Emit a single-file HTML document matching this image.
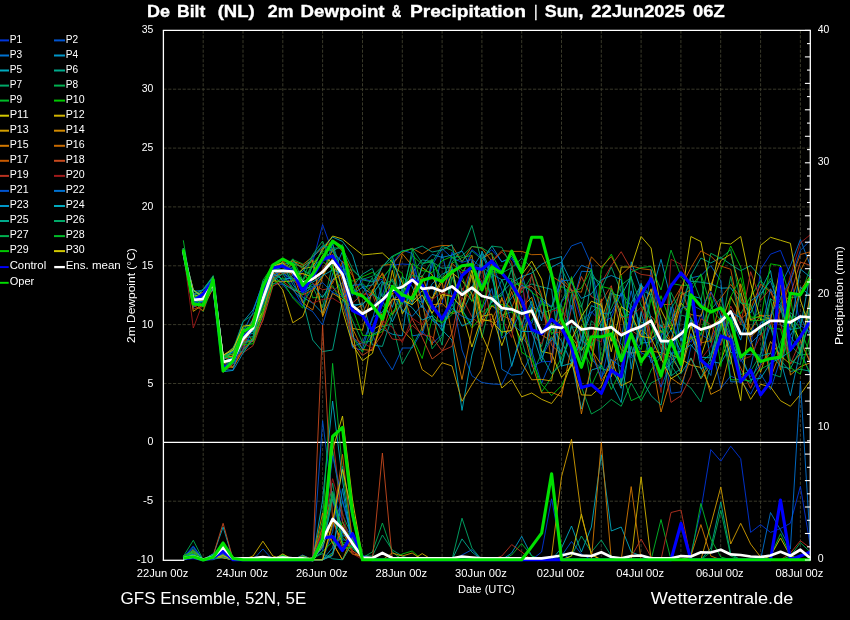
<!DOCTYPE html>
<html><head><meta charset="utf-8"><title>De Bilt (NL) 2m Dewpoint &amp; Precipitation</title>
<style>html,body{margin:0;padding:0;background:#000;}svg{display:block;font-family:"Liberation Sans",sans-serif;}text{fill:#fff;}svg{will-change:transform;}</style></head><body>
<svg width="850" height="620" viewBox="0 0 850 620">
<rect x="0" y="0" width="850" height="620" fill="#000"/>
<g stroke="#3e3e2e" stroke-width="0.9" stroke-dasharray="3.2,1.6" fill="none">
<line x1="203.2" y1="30.4" x2="203.2" y2="560.0"/>
<line x1="243.0" y1="30.4" x2="243.0" y2="560.0"/>
<line x1="282.8" y1="30.4" x2="282.8" y2="560.0"/>
<line x1="322.6" y1="30.4" x2="322.6" y2="560.0"/>
<line x1="362.5" y1="30.4" x2="362.5" y2="560.0"/>
<line x1="402.3" y1="30.4" x2="402.3" y2="560.0"/>
<line x1="442.1" y1="30.4" x2="442.1" y2="560.0"/>
<line x1="481.9" y1="30.4" x2="481.9" y2="560.0"/>
<line x1="521.7" y1="30.4" x2="521.7" y2="560.0"/>
<line x1="561.5" y1="30.4" x2="561.5" y2="560.0"/>
<line x1="601.3" y1="30.4" x2="601.3" y2="560.0"/>
<line x1="641.1" y1="30.4" x2="641.1" y2="560.0"/>
<line x1="680.9" y1="30.4" x2="680.9" y2="560.0"/>
<line x1="720.7" y1="30.4" x2="720.7" y2="560.0"/>
<line x1="760.6" y1="30.4" x2="760.6" y2="560.0"/>
<line x1="800.4" y1="30.4" x2="800.4" y2="560.0"/>
<line x1="163.4" y1="89.2" x2="810.3" y2="89.2"/>
<line x1="163.4" y1="148.1" x2="810.3" y2="148.1"/>
<line x1="163.4" y1="206.9" x2="810.3" y2="206.9"/>
<line x1="163.4" y1="265.8" x2="810.3" y2="265.8"/>
<line x1="163.4" y1="324.6" x2="810.3" y2="324.6"/>
<line x1="163.4" y1="383.5" x2="810.3" y2="383.5"/>
<line x1="163.4" y1="501.2" x2="810.3" y2="501.2"/>
</g>
<g fill="none" stroke-linejoin="round" stroke-linecap="butt">
<g stroke-width="0.9">
<polyline points="183.3,248.3 193.3,307.5 203.2,300.3 213.2,277.9 223.1,357.2 233.1,358.1 243.0,347.3 253.0,320.4 262.9,283.0 272.9,266.9 282.8,270.2 292.8,288.1 302.7,305.9 312.7,262.0 322.6,224.6 332.6,252.0 342.5,262.0 352.5,295.6 362.5,278.7 372.4,281.4 382.4,279.3 392.3,265.2 402.3,264.0 412.2,264.6 422.2,289.4 432.1,309.5 442.1,303.7 452.0,252.2 462.0,277.2 471.9,249.6 481.9,257.5 491.8,249.7 501.8,261.6 511.7,258.7 521.7,274.2 531.7,366.7 541.6,361.8 551.6,361.4 561.5,302.2 571.5,288.8 581.4,320.9 591.4,311.6 601.3,322.5 611.3,317.7 621.2,292.7 631.2,311.3 641.1,284.7 651.1,342.4 661.0,330.6 671.0,347.7 681.0,329.7 690.9,342.3 700.9,314.1 710.8,339.8 720.8,317.5 730.7,339.4 740.7,361.5 750.6,347.8 760.6,269.4 770.5,254.2 780.5,250.4 790.4,275.0 800.4,325.6 810.3,331.9" stroke="#0036dc" stroke-width="0.9" />
<polyline points="183.3,248.9 193.3,302.6 203.2,302.1 213.2,281.6 223.1,356.5 233.1,352.0 243.0,338.6 253.0,340.9 262.9,316.0 272.9,283.4 282.8,284.4 292.8,296.5 302.7,305.9 312.7,311.6 322.6,324.9 332.6,291.5 342.5,282.4 352.5,347.7 362.5,350.3 372.4,335.0 382.4,354.6 392.3,370.0 402.3,348.0 412.2,348.0 422.2,331.0 432.1,343.8 442.1,334.6 452.0,294.9 462.0,350.0 471.9,375.8 481.9,382.5 491.8,384.0 501.8,384.5 511.7,364.7 521.7,336.2 531.7,350.4 541.6,383.4 551.6,359.1 561.5,262.0 571.5,245.9 581.4,242.2 591.4,265.0 601.3,379.1 611.3,335.2 621.2,343.8 631.2,357.9 641.1,342.9 651.1,269.5 661.0,332.3 671.0,393.3 681.0,391.9 690.9,346.6 700.9,334.6 710.8,340.1 720.8,388.3 730.7,376.0 740.7,380.8 750.6,394.2 760.6,374.1 770.5,389.6 780.5,359.2 790.4,336.4 800.4,349.7 810.3,375.4" stroke="#0054d0" stroke-width="0.9" />
<polyline points="183.3,249.5 193.3,291.3 203.2,290.3 213.2,277.1 223.1,355.9 233.1,357.3 243.0,334.3 253.0,333.6 262.9,304.4 272.9,271.4 282.8,272.8 292.8,280.2 302.7,303.0 312.7,288.2 322.6,275.6 332.6,243.2 342.5,293.8 352.5,346.5 362.5,342.7 372.4,319.6 382.4,282.0 392.3,285.9 402.3,293.1 412.2,335.8 422.2,334.4 432.1,302.2 442.1,253.8 452.0,295.6 462.0,309.7 471.9,260.4 481.9,285.3 491.8,259.5 501.8,369.2 511.7,375.1 521.7,374.1 531.7,353.7 541.6,300.6 551.6,306.8 561.5,278.4 571.5,308.9 581.4,271.3 591.4,271.6 601.3,330.4 611.3,376.2 621.2,337.8 631.2,290.8 641.1,332.6 651.1,354.0 661.0,336.3 671.0,321.1 681.0,305.0 690.9,277.9 700.9,275.7 710.8,265.6 720.8,280.8 730.7,381.8 740.7,381.9 750.6,367.2 760.6,322.6 770.5,318.9 780.5,285.4 790.4,265.6 800.4,239.5 810.3,265.6" stroke="#0072d2" stroke-width="0.9" />
<polyline points="183.3,250.1 193.3,307.0 203.2,299.0 213.2,283.6 223.1,360.5 233.1,351.3 243.0,321.8 253.0,310.0 262.9,284.1 272.9,265.9 282.8,263.9 292.8,284.4 302.7,297.3 312.7,303.0 322.6,313.3 332.6,274.1 342.5,251.2 352.5,307.0 362.5,302.7 372.4,334.9 382.4,329.0 392.3,334.2 402.3,335.9 412.2,266.6 422.2,303.2 432.1,283.8 442.1,274.3 452.0,269.3 462.0,309.7 471.9,325.3 481.9,262.0 491.8,245.9 501.8,262.0 511.7,256.4 521.7,274.0 531.7,306.4 541.6,311.9 551.6,327.0 561.5,341.1 571.5,362.6 581.4,337.7 591.4,312.9 601.3,302.7 611.3,367.1 621.2,388.3 631.2,261.8 641.1,290.0 651.1,295.0 661.0,259.3 671.0,300.0 681.0,341.3 690.9,295.7 700.9,298.4 710.8,361.5 720.8,363.3 730.7,346.0 740.7,354.7 750.6,354.3 760.6,355.1 770.5,324.7 780.5,360.0 790.4,395.7 800.4,350.0 810.3,296.3" stroke="#0096c8" stroke-width="0.9" />
<polyline points="183.3,250.7 193.3,301.2 203.2,289.1 213.2,276.9 223.1,355.6 233.1,348.8 243.0,328.9 253.0,331.6 262.9,301.1 272.9,270.1 282.8,264.2 292.8,262.8 302.7,287.3 312.7,271.8 322.6,247.2 332.6,237.1 342.5,241.4 352.5,255.0 362.5,287.8 372.4,294.2 382.4,280.5 392.3,307.4 402.3,276.5 412.2,286.6 422.2,307.9 432.1,259.4 442.1,330.0 452.0,340.0 462.0,410.4 471.9,355.0 481.9,320.0 491.8,301.6 501.8,292.5 511.7,282.7 521.7,276.7 531.7,273.1 541.6,264.3 551.6,259.2 561.5,256.6 571.5,360.0 581.4,409.0 591.4,370.0 601.3,367.0 611.3,293.5 621.2,296.1 631.2,276.3 641.1,343.2 651.1,341.9 661.0,324.9 671.0,353.4 681.0,351.2 690.9,281.2 700.9,282.2 710.8,283.8 720.8,288.2 730.7,287.8 740.7,302.4 750.6,313.1 760.6,290.6 770.5,270.6 780.5,325.1 790.4,329.4 800.4,327.8 810.3,273.4" stroke="#00aabe" stroke-width="0.9" />
<polyline points="183.3,248.3 193.3,294.7 203.2,303.2 213.2,282.9 223.1,364.4 233.1,360.3 243.0,341.6 253.0,339.8 262.9,303.5 272.9,281.6 282.8,273.5 292.8,290.0 302.7,300.0 312.7,340.0 322.6,351.6 332.6,350.0 342.5,300.0 352.5,285.1 362.5,310.5 372.4,345.0 382.4,346.4 392.3,316.5 402.3,288.4 412.2,272.4 422.2,259.8 432.1,261.7 442.1,268.3 452.0,267.1 462.0,313.2 471.9,291.9 481.9,262.4 491.8,302.8 501.8,279.9 511.7,278.5 521.7,288.5 531.7,284.0 541.6,286.9 551.6,289.3 561.5,366.7 571.5,326.9 581.4,327.9 591.4,359.4 601.3,368.6 611.3,371.3 621.2,382.8 631.2,303.1 641.1,284.8 651.1,296.3 661.0,339.9 671.0,376.0 681.0,368.5 690.9,275.7 700.9,258.0 710.8,263.0 720.8,257.5 730.7,264.3 740.7,270.7 750.6,265.6 760.6,277.0 770.5,327.1 780.5,360.4 790.4,371.5 800.4,369.3 810.3,371.2" stroke="#00aa8c" stroke-width="0.9" />
<polyline points="183.3,248.9 193.3,295.5 203.2,295.0 213.2,278.4 223.1,362.3 233.1,355.4 243.0,334.5 253.0,329.2 262.9,312.6 272.9,271.7 282.8,263.8 292.8,275.1 302.7,269.6 312.7,276.5 322.6,258.9 332.6,251.5 342.5,244.6 352.5,292.5 362.5,293.7 372.4,277.5 382.4,326.9 392.3,323.6 402.3,364.0 412.2,346.4 422.2,327.7 432.1,315.7 442.1,345.1 452.0,262.0 462.0,250.0 471.9,225.4 481.9,262.0 491.8,300.0 501.8,294.7 511.7,269.9 521.7,311.3 531.7,329.6 541.6,346.5 551.6,307.4 561.5,267.9 571.5,291.0 581.4,307.5 591.4,271.9 601.3,289.3 611.3,266.9 621.2,291.7 631.2,306.0 641.1,322.4 651.1,325.0 661.0,349.0 671.0,365.0 681.0,380.5 690.9,388.0 700.9,402.0 710.8,365.0 720.8,334.8 730.7,364.3 740.7,293.1 750.6,319.5 760.6,311.5 770.5,373.7 780.5,377.0 790.4,312.4 800.4,322.9 810.3,305.0" stroke="#00a868" stroke-width="0.9" />
<polyline points="183.3,249.5 193.3,295.0 203.2,295.3 213.2,281.2 223.1,357.8 233.1,347.4 243.0,330.8 253.0,333.6 262.9,303.2 272.9,266.6 282.8,270.1 292.8,280.1 302.7,288.8 312.7,286.4 322.6,307.6 332.6,264.6 342.5,269.4 352.5,270.1 362.5,279.4 372.4,276.1 382.4,266.4 392.3,260.5 402.3,313.1 412.2,297.1 422.2,302.4 432.1,348.8 442.1,336.8 452.0,276.6 462.0,305.6 471.9,274.5 481.9,337.8 491.8,296.7 501.8,296.2 511.7,267.9 521.7,292.8 531.7,276.2 541.6,313.4 551.6,309.9 561.5,305.6 571.5,342.5 581.4,387.0 591.4,414.0 601.3,408.3 611.3,399.4 621.2,406.3 631.2,383.0 641.1,400.7 651.1,383.0 661.0,378.0 671.0,308.8 681.0,292.5 690.9,297.4 700.9,362.2 710.8,353.9 720.8,329.9 730.7,276.2 740.7,323.4 750.6,333.3 760.6,295.9 770.5,278.3 780.5,297.7 790.4,345.5 800.4,355.0 810.3,353.8" stroke="#00b050" stroke-width="0.9" />
<polyline points="183.3,240.3 193.3,301.0 203.2,311.5 213.2,284.2 223.1,360.6 233.1,367.2 243.0,342.9 253.0,341.4 262.9,308.7 272.9,275.7 282.8,270.9 292.8,259.6 302.7,263.9 312.7,297.8 322.6,296.6 332.6,285.6 342.5,304.9 352.5,336.8 362.5,352.1 372.4,327.4 382.4,305.1 392.3,315.1 402.3,292.7 412.2,255.3 422.2,264.4 432.1,259.7 442.1,284.5 452.0,263.4 462.0,257.5 471.9,255.4 481.9,312.3 491.8,305.4 501.8,315.0 511.7,311.9 521.7,322.1 531.7,355.0 541.6,392.0 551.6,377.0 561.5,357.3 571.5,337.4 581.4,327.6 591.4,385.7 601.3,364.1 611.3,389.5 621.2,370.0 631.2,400.7 641.1,396.0 651.1,370.0 661.0,356.1 671.0,283.3 681.0,285.3 690.9,285.2 700.9,275.3 710.8,342.6 720.8,321.7 730.7,297.2 740.7,313.6 750.6,296.5 760.6,280.7 770.5,291.3 780.5,309.3 790.4,297.8 800.4,296.3 810.3,267.8" stroke="#00bc28" stroke-width="0.9" />
<polyline points="183.3,250.7 193.3,298.2 203.2,292.6 213.2,278.4 223.1,359.3 233.1,350.1 243.0,352.0 253.0,337.4 262.9,305.5 272.9,268.9 282.8,281.4 292.8,298.0 302.7,308.2 312.7,276.3 322.6,261.7 332.6,268.8 342.5,271.1 352.5,281.2 362.5,276.8 372.4,272.4 382.4,278.1 392.3,265.8 402.3,273.4 412.2,337.1 422.2,358.5 432.1,318.8 442.1,322.6 452.0,311.9 462.0,310.4 471.9,327.9 481.9,316.3 491.8,305.3 501.8,304.5 511.7,307.5 521.7,352.2 531.7,358.9 541.6,384.5 551.6,395.6 561.5,385.7 571.5,365.0 581.4,346.5 591.4,366.8 601.3,269.4 611.3,254.2 621.2,275.7 631.2,336.7 641.1,349.6 651.1,298.7 661.0,333.2 671.0,318.6 681.0,302.9 690.9,318.4 700.9,340.8 710.8,309.4 720.8,269.8 730.7,246.0 740.7,267.0 750.6,320.8 760.6,320.3 770.5,263.8 780.5,265.6 790.4,298.0 800.4,354.4 810.3,372.7" stroke="#00c800" stroke-width="0.9" />
<polyline points="183.3,248.3 193.3,294.0 203.2,292.7 213.2,279.0 223.1,356.2 233.1,354.1 243.0,331.1 253.0,326.6 262.9,312.3 272.9,280.9 282.8,281.5 292.8,281.0 302.7,268.9 312.7,266.6 322.6,250.0 332.6,236.0 342.5,239.0 352.5,247.0 362.5,255.0 372.4,254.0 382.4,253.0 392.3,262.0 402.3,282.8 412.2,302.1 422.2,290.8 432.1,298.3 442.1,278.8 452.0,270.1 462.0,311.6 471.9,347.0 481.9,316.4 491.8,314.1 501.8,345.7 511.7,318.1 521.7,342.2 531.7,307.5 541.6,351.4 551.6,353.7 561.5,377.3 571.5,365.9 581.4,325.5 591.4,348.4 601.3,310.7 611.3,341.3 621.2,267.0 631.2,267.0 641.1,236.5 651.1,248.0 661.0,310.0 671.0,330.0 681.0,300.0 690.9,236.5 700.9,241.6 710.8,291.0 720.8,242.8 730.7,244.0 740.7,236.5 750.6,283.0 760.6,320.0 770.5,318.2 780.5,266.3 790.4,322.2 800.4,340.9 810.3,362.6" stroke="#d2c800" stroke-width="0.9" />
<polyline points="183.3,248.9 193.3,294.4 203.2,297.9 213.2,289.3 223.1,358.6 233.1,355.8 243.0,330.2 253.0,329.2 262.9,314.2 272.9,277.0 282.8,290.0 292.8,322.8 302.7,316.5 312.7,291.0 322.6,276.6 332.6,258.0 342.5,290.0 352.5,330.0 362.5,394.8 372.4,330.0 382.4,324.0 392.3,270.3 402.3,314.1 412.2,295.0 422.2,267.6 432.1,274.6 442.1,299.4 452.0,272.8 462.0,280.5 471.9,293.9 481.9,335.0 491.8,357.0 501.8,388.0 511.7,379.5 521.7,396.8 531.7,393.0 541.6,399.3 551.6,403.5 561.5,390.6 571.5,362.0 581.4,394.9 591.4,395.3 601.3,386.4 611.3,359.0 621.2,385.7 631.2,380.9 641.1,313.7 651.1,288.8 661.0,343.7 671.0,354.8 681.0,359.1 690.9,365.1 700.9,367.5 710.8,389.3 720.8,360.9 730.7,333.9 740.7,378.0 750.6,399.4 760.6,384.3 770.5,386.8 780.5,400.7 790.4,406.3 800.4,394.4 810.3,380.5" stroke="#d2b400" stroke-width="0.9" />
<polyline points="183.3,249.5 193.3,311.4 203.2,304.5 213.2,276.5 223.1,355.4 233.1,348.3 243.0,328.6 253.0,341.2 262.9,314.6 272.9,279.6 282.8,269.9 292.8,260.0 302.7,268.9 312.7,260.9 322.6,315.2 332.6,280.1 342.5,273.7 352.5,328.4 362.5,330.2 372.4,289.4 382.4,317.4 392.3,293.0 402.3,330.0 412.2,340.0 422.2,369.6 432.1,376.6 442.1,362.7 452.0,366.0 462.0,401.3 471.9,384.5 481.9,369.0 491.8,330.0 501.8,297.4 511.7,331.4 521.7,362.5 531.7,379.8 541.6,379.4 551.6,381.0 561.5,321.0 571.5,337.0 581.4,350.5 591.4,337.4 601.3,320.6 611.3,288.6 621.2,313.4 631.2,354.6 641.1,329.9 651.1,338.3 661.0,330.4 671.0,341.4 681.0,302.8 690.9,314.6 700.9,316.2 710.8,285.0 720.8,260.5 730.7,254.2 740.7,290.0 750.6,339.3 760.6,372.2 770.5,341.5 780.5,355.8 790.4,364.1 800.4,353.9 810.3,293.2" stroke="#d29e00" stroke-width="0.9" />
<polyline points="183.3,250.1 193.3,303.8 203.2,306.6 213.2,288.5 223.1,355.7 233.1,356.6 243.0,343.8 253.0,319.0 262.9,303.5 272.9,273.6 282.8,271.6 292.8,264.2 302.7,266.3 312.7,259.8 322.6,316.6 332.6,293.4 342.5,299.4 352.5,311.3 362.5,304.6 372.4,291.5 382.4,272.8 392.3,294.1 402.3,284.6 412.2,301.7 422.2,275.3 432.1,304.9 442.1,303.4 452.0,313.6 462.0,311.3 471.9,275.4 481.9,324.0 491.8,306.0 501.8,310.5 511.7,287.3 521.7,307.6 531.7,297.2 541.6,334.9 551.6,341.0 561.5,317.7 571.5,277.7 581.4,315.4 591.4,349.6 601.3,364.7 611.3,317.0 621.2,349.9 631.2,352.9 641.1,351.5 651.1,351.1 661.0,352.6 671.0,357.0 681.0,371.4 690.9,335.6 700.9,360.0 710.8,394.4 720.8,389.3 730.7,350.0 740.7,283.8 750.6,320.1 760.6,315.5 770.5,319.0 780.5,285.1 790.4,375.0 800.4,366.6 810.3,362.8" stroke="#d28a00" stroke-width="0.9" />
<polyline points="183.3,250.7 193.3,300.9 203.2,300.2 213.2,279.8 223.1,366.4 233.1,367.5 243.0,350.0 253.0,318.2 262.9,290.4 272.9,271.2 282.8,261.3 292.8,271.8 302.7,302.7 312.7,310.0 322.6,276.9 332.6,248.6 342.5,281.5 352.5,328.3 362.5,349.5 372.4,350.5 382.4,323.8 392.3,291.8 402.3,253.8 412.2,265.7 422.2,330.8 432.1,299.7 442.1,281.9 452.0,335.0 462.0,379.5 471.9,330.0 481.9,258.3 491.8,253.1 501.8,320.9 511.7,291.6 521.7,323.3 531.7,363.6 541.6,392.9 551.6,392.4 561.5,396.4 571.5,347.0 581.4,414.0 591.4,364.7 601.3,298.7 611.3,376.7 621.2,313.5 631.2,328.9 641.1,285.6 651.1,355.0 661.0,412.0 671.0,378.0 681.0,384.9 690.9,357.9 700.9,378.9 710.8,364.4 720.8,324.3 730.7,296.5 740.7,316.0 750.6,337.0 760.6,327.5 770.5,378.1 780.5,351.4 790.4,322.5 800.4,290.2 810.3,275.8" stroke="#d27800" stroke-width="0.9" />
<polyline points="183.3,248.3 193.3,301.6 203.2,300.1 213.2,282.3 223.1,363.1 233.1,367.0 243.0,349.4 253.0,339.8 262.9,300.4 272.9,268.6 282.8,262.0 292.8,261.2 302.7,264.7 312.7,256.6 322.6,248.3 332.6,241.2 342.5,251.2 352.5,273.3 362.5,313.3 372.4,292.5 382.4,265.2 392.3,264.5 402.3,252.6 412.2,248.2 422.2,253.9 432.1,247.5 442.1,245.5 452.0,245.6 462.0,261.9 471.9,246.4 481.9,248.2 491.8,261.1 501.8,250.7 511.7,251.4 521.7,251.4 531.7,254.7 541.6,254.4 551.6,276.1 561.5,282.5 571.5,290.6 581.4,292.2 591.4,256.8 601.3,267.3 611.3,256.5 621.2,274.9 631.2,265.7 641.1,268.7 651.1,269.9 661.0,318.8 671.0,341.2 681.0,295.1 690.9,289.8 700.9,343.0 710.8,340.6 720.8,298.2 730.7,284.4 740.7,297.5 750.6,329.8 760.6,315.3 770.5,315.7 780.5,370.1 790.4,304.4 800.4,270.7 810.3,251.6" stroke="#c86a00" stroke-width="0.9" />
<polyline points="183.3,248.9 193.3,305.1 203.2,310.8 213.2,279.6 223.1,355.9 233.1,362.8 243.0,349.4 253.0,340.4 262.9,313.8 272.9,276.7 282.8,273.5 292.8,271.6 302.7,292.5 312.7,278.2 322.6,272.4 332.6,283.6 342.5,261.2 352.5,275.5 362.5,297.4 372.4,284.5 382.4,273.9 392.3,314.2 402.3,304.2 412.2,271.5 422.2,302.8 432.1,345.0 442.1,293.8 452.0,263.2 462.0,273.4 471.9,255.1 481.9,321.2 491.8,319.6 501.8,299.5 511.7,308.2 521.7,280.9 531.7,267.4 541.6,294.8 551.6,362.7 561.5,278.1 571.5,289.5 581.4,340.3 591.4,346.8 601.3,381.0 611.3,365.3 621.2,354.1 631.2,327.0 641.1,289.5 651.1,336.5 661.0,304.6 671.0,304.4 681.0,287.2 690.9,267.9 700.9,250.9 710.8,256.1 720.8,266.0 730.7,269.3 740.7,319.6 750.6,309.5 760.6,284.1 770.5,292.1 780.5,312.2 790.4,281.6 800.4,254.5 810.3,251.8" stroke="#c85a00" stroke-width="0.9" />
<polyline points="183.3,249.5 193.3,298.1 203.2,299.0 213.2,286.9 223.1,372.3 233.1,364.3 243.0,341.4 253.0,341.5 262.9,320.5 272.9,286.0 282.8,281.0 292.8,289.5 302.7,294.8 312.7,290.2 322.6,269.3 332.6,254.0 342.5,273.7 352.5,343.5 362.5,355.4 372.4,348.9 382.4,333.7 392.3,300.3 402.3,293.6 412.2,319.1 422.2,337.3 432.1,359.0 442.1,351.3 452.0,333.1 462.0,288.2 471.9,301.1 481.9,266.0 491.8,327.2 501.8,314.8 511.7,320.5 521.7,287.8 531.7,286.5 541.6,296.7 551.6,345.5 561.5,353.9 571.5,307.8 581.4,276.5 591.4,296.5 601.3,301.9 611.3,285.7 621.2,333.0 631.2,330.1 641.1,337.2 651.1,316.1 661.0,327.6 671.0,325.6 681.0,286.1 690.9,318.0 700.9,345.6 710.8,291.9 720.8,309.3 730.7,345.7 740.7,367.9 750.6,388.3 760.6,365.6 770.5,352.9 780.5,308.3 790.4,294.4 800.4,262.1 810.3,265.3" stroke="#c84a1e" stroke-width="0.9" />
<polyline points="183.3,250.1 193.3,309.1 203.2,306.1 213.2,281.5 223.1,363.6 233.1,359.8 243.0,352.9 253.0,345.7 262.9,319.3 272.9,275.8 282.8,270.3 292.8,274.0 302.7,274.0 312.7,283.2 322.6,289.8 332.6,287.8 342.5,296.1 352.5,303.1 362.5,294.1 372.4,294.1 382.4,323.2 392.3,339.0 402.3,340.3 412.2,325.2 422.2,334.3 432.1,336.9 442.1,350.9 452.0,346.4 462.0,297.3 471.9,316.8 481.9,326.4 491.8,262.0 501.8,252.0 511.7,262.0 521.7,328.7 531.7,274.2 541.6,312.1 551.6,332.9 561.5,332.1 571.5,279.7 581.4,317.3 591.4,344.4 601.3,283.0 611.3,265.6 621.2,251.7 631.2,269.4 641.1,274.4 651.1,275.7 661.0,346.1 671.0,402.4 681.0,395.7 690.9,376.3 700.9,318.7 710.8,324.6 720.8,345.1 730.7,306.1 740.7,324.8 750.6,271.7 760.6,300.2 770.5,288.7 780.5,322.9 790.4,364.0 800.4,340.9 810.3,361.1" stroke="#b83220" stroke-width="0.9" />
<polyline points="183.3,250.7 193.3,328.0 203.2,302.0 213.2,285.8 223.1,369.4 233.1,358.1 243.0,346.2 253.0,325.5 262.9,284.5 272.9,272.5 282.8,262.3 292.8,278.5 302.7,291.8 312.7,303.0 322.6,299.4 332.6,298.2 342.5,304.4 352.5,338.5 362.5,342.6 372.4,348.4 382.4,320.6 392.3,327.3 402.3,342.6 412.2,318.1 422.2,325.0 432.1,299.6 442.1,292.5 452.0,295.8 462.0,292.8 471.9,265.2 481.9,281.5 491.8,296.3 501.8,317.8 511.7,337.5 521.7,282.0 531.7,334.2 541.6,343.7 551.6,311.3 561.5,308.8 571.5,324.3 581.4,359.2 591.4,337.5 601.3,342.0 611.3,289.4 621.2,317.4 631.2,317.2 641.1,307.1 651.1,337.8 661.0,392.6 671.0,259.3 681.0,264.3 690.9,288.4 700.9,359.4 710.8,346.2 720.8,317.4 730.7,324.9 740.7,360.1 750.6,356.4 760.6,336.1 770.5,323.9 780.5,311.9 790.4,275.7 800.4,242.8 810.3,234.7" stroke="#a01a1a" stroke-width="0.9" />
<polyline points="183.3,248.3 193.3,295.2 203.2,289.8 213.2,279.6 223.1,362.3 233.1,357.4 243.0,350.6 253.0,328.0 262.9,304.7 272.9,276.3 282.8,270.2 292.8,267.4 302.7,293.3 312.7,287.5 322.6,282.8 332.6,292.3 342.5,297.2 352.5,285.5 362.5,284.1 372.4,306.5 382.4,294.5 392.3,264.0 402.3,250.1 412.2,253.4 422.2,302.9 432.1,265.1 442.1,248.7 452.0,257.8 462.0,262.4 471.9,259.4 481.9,267.8 491.8,260.5 501.8,290.2 511.7,323.8 521.7,332.2 531.7,304.0 541.6,358.0 551.6,338.3 561.5,351.3 571.5,305.3 581.4,338.8 591.4,354.6 601.3,377.7 611.3,359.4 621.2,366.7 631.2,331.5 641.1,352.7 651.1,357.8 661.0,387.2 671.0,362.1 681.0,308.6 690.9,304.5 700.9,309.8 710.8,291.7 720.8,316.0 730.7,335.6 740.7,359.0 750.6,376.8 760.6,364.7 770.5,314.8 780.5,298.1 790.4,280.0 800.4,250.4 810.3,240.3" stroke="#0054d0" stroke-width="0.9" />
<polyline points="183.3,248.9 193.3,298.5 203.2,297.5 213.2,288.5 223.1,369.5 233.1,370.2 243.0,332.0 253.0,312.3 262.9,282.1 272.9,268.9 282.8,281.2 292.8,275.5 302.7,271.5 312.7,257.8 322.6,245.7 332.6,251.4 342.5,262.9 352.5,336.1 362.5,348.5 372.4,317.3 382.4,312.0 392.3,294.9 402.3,309.8 412.2,316.4 422.2,304.8 432.1,320.4 442.1,326.8 452.0,308.3 462.0,316.3 471.9,320.1 481.9,309.1 491.8,288.5 501.8,338.3 511.7,329.9 521.7,310.0 531.7,323.5 541.6,297.9 551.6,307.1 561.5,280.8 571.5,280.0 581.4,265.3 591.4,269.1 601.3,313.7 611.3,312.9 621.2,293.1 631.2,355.7 641.1,324.7 651.1,362.7 661.0,354.1 671.0,306.6 681.0,367.0 690.9,333.5 700.9,358.6 710.8,375.5 720.8,317.3 730.7,312.2 740.7,317.8 750.6,343.5 760.6,333.3 770.5,288.9 780.5,303.1 790.4,335.6 800.4,316.8 810.3,335.7" stroke="#0072d2" stroke-width="0.9" />
<polyline points="183.3,249.5 193.3,301.9 203.2,301.2 213.2,288.7 223.1,371.7 233.1,370.4 243.0,353.1 253.0,339.2 262.9,294.6 272.9,276.0 282.8,283.9 292.8,289.6 302.7,292.2 312.7,283.9 322.6,297.6 332.6,279.8 342.5,265.6 352.5,293.8 362.5,287.4 372.4,284.8 382.4,266.9 392.3,256.1 402.3,290.0 412.2,304.6 422.2,264.6 432.1,254.4 442.1,257.4 452.0,255.1 462.0,251.0 471.9,268.8 481.9,253.4 491.8,277.9 501.8,311.4 511.7,297.6 521.7,285.2 531.7,290.8 541.6,320.9 551.6,267.2 561.5,262.1 571.5,282.7 581.4,298.4 591.4,293.8 601.3,279.8 611.3,275.5 621.2,279.7 631.2,369.1 641.1,311.6 651.1,353.5 661.0,371.4 671.0,363.7 681.0,350.9 690.9,319.5 700.9,368.9 710.8,363.0 720.8,341.3 730.7,317.0 740.7,340.1 750.6,300.9 760.6,293.9 770.5,280.9 780.5,309.5 790.4,330.4 800.4,269.1 810.3,277.1" stroke="#0096c8" stroke-width="0.9" />
<polyline points="183.3,250.1 193.3,290.7 203.2,297.9 213.2,282.2 223.1,359.2 233.1,350.3 243.0,332.9 253.0,320.0 262.9,296.9 272.9,273.9 282.8,279.2 292.8,278.0 302.7,281.8 312.7,282.1 322.6,275.6 332.6,270.0 342.5,273.6 352.5,304.6 362.5,304.7 372.4,294.4 382.4,300.3 392.3,321.9 402.3,300.5 412.2,307.7 422.2,320.1 432.1,315.9 442.1,330.7 452.0,303.9 462.0,326.1 471.9,321.3 481.9,251.1 491.8,273.4 501.8,314.7 511.7,366.4 521.7,331.4 531.7,331.5 541.6,361.5 551.6,323.0 561.5,366.0 571.5,363.3 581.4,340.7 591.4,305.6 601.3,309.7 611.3,382.6 621.2,402.5 631.2,332.2 641.1,283.2 651.1,318.6 661.0,343.4 671.0,329.9 681.0,352.1 690.9,344.6 700.9,357.2 710.8,357.9 720.8,315.4 730.7,352.3 740.7,353.2 750.6,379.7 760.6,378.3 770.5,363.0 780.5,358.0 790.4,351.3 800.4,287.1 810.3,295.6" stroke="#00aabe" stroke-width="0.9" />
<polyline points="183.3,250.7 193.3,289.9 203.2,296.1 213.2,285.6 223.1,356.6 233.1,357.9 243.0,337.6 253.0,336.7 262.9,302.3 272.9,271.2 282.8,265.4 292.8,269.3 302.7,280.1 312.7,266.9 322.6,258.5 332.6,243.8 342.5,275.0 352.5,286.7 362.5,274.2 372.4,268.4 382.4,296.9 392.3,278.8 402.3,298.0 412.2,250.0 422.2,246.0 432.1,252.0 442.1,250.0 452.0,244.6 462.0,292.4 471.9,287.2 481.9,266.5 491.8,274.2 501.8,279.7 511.7,306.1 521.7,324.8 531.7,301.3 541.6,355.4 551.6,373.8 561.5,364.1 571.5,325.3 581.4,350.5 591.4,276.7 601.3,283.1 611.3,316.4 621.2,383.8 631.2,346.3 641.1,378.0 651.1,395.7 661.0,405.1 671.0,352.5 681.0,373.5 690.9,358.0 700.9,378.1 710.8,357.8 720.8,326.0 730.7,310.3 740.7,376.5 750.6,382.8 760.6,356.0 770.5,353.1 780.5,366.4 790.4,368.6 800.4,349.1 810.3,321.1" stroke="#00aa8c" stroke-width="0.9" />
<polyline points="183.3,248.3 193.3,294.5 203.2,289.4 213.2,275.6 223.1,357.4 233.1,349.1 243.0,321.7 253.0,314.5 262.9,303.0 272.9,279.8 282.8,273.9 292.8,261.9 302.7,267.4 312.7,255.9 322.6,245.7 332.6,247.9 342.5,248.4 352.5,268.9 362.5,279.9 372.4,282.0 382.4,266.5 392.3,256.1 402.3,251.1 412.2,248.7 422.2,263.0 432.1,262.3 442.1,246.2 452.0,250.5 462.0,261.2 471.9,250.8 481.9,259.3 491.8,246.1 501.8,247.3 511.7,266.6 521.7,340.3 531.7,374.4 541.6,353.8 551.6,336.6 561.5,352.7 571.5,294.4 581.4,360.4 591.4,320.7 601.3,331.0 611.3,289.9 621.2,317.3 631.2,313.5 641.1,344.8 651.1,292.5 661.0,317.9 671.0,374.9 681.0,315.0 690.9,317.9 700.9,334.7 710.8,309.5 720.8,298.1 730.7,335.4 740.7,374.5 750.6,371.2 760.6,354.4 770.5,298.9 780.5,305.0 790.4,360.5 800.4,364.4 810.3,303.2" stroke="#00a868" stroke-width="0.9" />
<polyline points="183.3,248.9 193.3,297.7 203.2,293.7 213.2,279.1 223.1,359.9 233.1,363.6 243.0,342.7 253.0,339.4 262.9,290.3 272.9,269.0 282.8,270.6 292.8,258.8 302.7,280.1 312.7,254.7 322.6,241.1 332.6,268.9 342.5,296.0 352.5,320.2 362.5,342.5 372.4,340.7 382.4,283.9 392.3,280.7 402.3,304.6 412.2,275.5 422.2,276.7 432.1,260.7 442.1,279.0 452.0,257.6 462.0,256.0 471.9,246.5 481.9,247.7 491.8,254.2 501.8,273.2 511.7,267.6 521.7,258.4 531.7,267.4 541.6,298.7 551.6,330.6 561.5,301.6 571.5,280.9 581.4,304.9 591.4,346.0 601.3,325.1 611.3,308.1 621.2,285.2 631.2,277.3 641.1,305.2 651.1,320.0 661.0,361.0 671.0,292.4 681.0,313.6 690.9,274.7 700.9,300.4 710.8,253.3 720.8,258.4 730.7,249.6 740.7,302.9 750.6,304.6 760.6,334.8 770.5,298.5 780.5,352.9 790.4,315.1 800.4,355.1 810.3,313.4" stroke="#00b050" stroke-width="0.9" />
<polyline points="183.3,249.5 193.3,300.7 203.2,298.9 213.2,277.5 223.1,356.3 233.1,354.0 243.0,327.6 253.0,323.2 262.9,280.3 272.9,265.4 282.8,262.5 292.8,280.3 302.7,281.4 312.7,263.9 322.6,251.3 332.6,249.8 342.5,274.9 352.5,291.7 362.5,283.3 372.4,292.8 382.4,304.3 392.3,257.1 402.3,251.4 412.2,248.8 422.2,289.5 432.1,314.5 442.1,323.2 452.0,314.5 462.0,276.5 471.9,301.5 481.9,285.9 491.8,267.0 501.8,335.9 511.7,279.5 521.7,329.4 531.7,320.4 541.6,303.7 551.6,307.4 561.5,286.4 571.5,293.1 581.4,288.0 591.4,268.9 601.3,360.6 611.3,324.9 621.2,357.8 631.2,272.0 641.1,267.6 651.1,266.4 661.0,290.0 671.0,250.1 681.0,276.3 690.9,291.3 700.9,273.8 710.8,306.4 720.8,320.9 730.7,379.8 740.7,379.8 750.6,380.9 760.6,369.2 770.5,363.8 780.5,342.3 790.4,316.1 800.4,328.5 810.3,354.8" stroke="#00bc28" stroke-width="0.9" />
<polyline points="183.3,250.1 193.3,294.7 203.2,307.3 213.2,285.5 223.1,356.0 233.1,358.3 243.0,344.6 253.0,343.8 262.9,312.8 272.9,284.4 282.8,277.6 292.8,287.6 302.7,294.8 312.7,263.2 322.6,252.7 332.6,270.5 342.5,297.1 352.5,308.6 362.5,335.3 372.4,335.7 382.4,331.5 392.3,311.9 402.3,302.4 412.2,263.5 422.2,270.5 432.1,272.6 442.1,260.7 452.0,256.3 462.0,270.6 471.9,270.9 481.9,308.3 491.8,271.3 501.8,273.9 511.7,286.9 521.7,282.0 531.7,292.3 541.6,299.5 551.6,334.7 561.5,317.9 571.5,276.5 581.4,314.4 591.4,361.4 601.3,286.4 611.3,288.9 621.2,305.2 631.2,335.6 641.1,366.1 651.1,334.5 661.0,295.7 671.0,324.3 681.0,347.3 690.9,338.8 700.9,333.6 710.8,296.8 720.8,366.6 730.7,296.9 740.7,277.7 750.6,317.0 760.6,317.3 770.5,328.4 780.5,329.0 790.4,367.5 800.4,374.2 810.3,334.4" stroke="#00c800" stroke-width="0.9" />
<polyline points="183.3,250.7 193.3,289.9 203.2,297.3 213.2,280.6 223.1,355.2 233.1,350.1 243.0,326.1 253.0,325.0 262.9,297.6 272.9,266.2 282.8,262.8 292.8,275.2 302.7,273.4 312.7,277.5 322.6,255.3 332.6,263.2 342.5,310.5 352.5,344.6 362.5,360.7 372.4,353.4 382.4,316.7 392.3,299.0 402.3,300.1 412.2,304.7 422.2,295.0 432.1,313.3 442.1,294.4 452.0,296.5 462.0,307.2 471.9,270.1 481.9,319.5 491.8,321.3 501.8,332.1 511.7,330.4 521.7,274.6 531.7,261.1 541.6,279.1 551.6,326.9 561.5,317.2 571.5,340.2 581.4,316.4 591.4,301.2 601.3,305.3 611.3,351.8 621.2,306.6 631.2,313.6 641.1,336.3 651.1,338.1 661.0,358.2 671.0,378.8 681.0,372.4 690.9,325.5 700.9,356.7 710.8,326.7 720.8,318.0 730.7,358.1 740.7,400.6 750.6,300.0 760.6,245.4 770.5,237.3 780.5,240.3 790.4,243.3 800.4,300.0 810.3,330.0" stroke="#d2c800" stroke-width="0.9" />
</g>
<polyline points="183.3,250.0 193.3,301.0 203.2,294.0 213.2,281.0 223.1,368.0 233.1,362.0 243.0,338.0 253.0,327.0 262.9,296.0 272.9,268.0 282.8,266.0 292.8,271.9 302.7,291.2 312.7,276.7 322.6,259.8 332.6,256.0 342.5,273.0 352.5,310.6 362.5,315.4 372.4,331.0 382.4,301.0 392.3,287.6 402.3,300.9 412.2,279.0 422.2,285.0 432.1,305.7 442.1,319.0 452.0,301.0 462.0,275.5 471.9,267.0 481.9,269.4 491.8,261.0 501.8,273.0 511.7,284.6 521.7,300.5 531.7,329.5 541.6,333.9 551.6,319.4 561.5,328.0 571.5,347.0 581.4,387.6 591.4,384.7 601.3,393.4 611.3,370.2 621.2,376.7 631.2,312.1 641.1,294.7 651.1,278.7 661.0,306.3 671.0,286.0 681.0,272.9 690.9,284.5 700.9,360.0 710.8,368.7 720.8,336.0 730.7,339.7 740.7,381.8 750.6,370.2 760.6,394.9 770.5,381.8 780.5,268.6 790.4,349.9 800.4,336.8 810.3,320.8" stroke="#0000ff" stroke-width="3.1" />
<polyline points="183.3,250.5 193.3,299.8 203.2,299.0 213.2,283.0 223.1,362.0 233.1,359.6 243.0,339.0 253.0,328.0 262.9,299.0 272.9,271.0 282.8,270.8 292.8,271.5 302.7,282.7 312.7,279.0 322.6,271.9 332.6,261.0 342.5,274.3 352.5,305.7 362.5,313.7 372.4,308.0 382.4,299.7 392.3,290.0 402.3,287.0 412.2,279.8 422.2,288.8 432.1,287.6 442.1,291.2 452.0,286.4 462.0,294.8 471.9,287.6 481.9,296.0 491.8,298.5 501.8,308.0 511.7,309.3 521.7,313.6 531.7,310.7 541.6,332.4 551.6,326.6 561.5,328.0 571.5,320.8 581.4,329.5 591.4,328.0 601.3,329.5 611.3,327.2 621.2,335.3 631.2,330.1 641.1,326.6 651.1,320.8 661.0,341.1 671.0,341.1 681.0,333.9 690.9,323.7 700.9,329.5 710.8,326.6 720.8,321.5 730.7,311.5 740.7,333.9 750.6,333.9 760.6,326.6 770.5,320.8 780.5,320.8 790.4,322.3 800.4,316.5 810.3,317.3" stroke="#ffffff" stroke-width="2.75" />
<polyline points="183.3,249.5 193.3,304.0 203.2,305.0 213.2,279.8 223.1,371.0 233.1,360.8 243.0,331.8 253.0,325.7 262.9,287.0 272.9,265.0 282.8,259.0 292.8,264.6 302.7,285.2 312.7,274.3 322.6,258.5 332.6,241.1 342.5,247.7 352.5,292.4 362.5,296.0 372.4,305.7 382.4,319.0 392.3,286.4 402.3,294.8 412.2,298.5 422.2,280.3 432.1,277.4 442.1,281.5 452.0,271.9 462.0,265.8 471.9,264.6 481.9,290.0 491.8,267.0 501.8,273.0 511.7,251.2 521.7,272.9 531.7,237.2 541.6,237.2 551.6,274.4 561.5,319.4 571.5,339.7 581.4,367.3 591.4,336.8 601.3,336.8 611.3,333.9 621.2,360.7 631.2,333.9 641.1,361.5 651.1,348.4 661.0,376.0 671.0,341.1 681.0,364.4 690.9,294.7 700.9,306.3 710.8,312.1 720.8,307.8 730.7,321.5 740.7,357.1 750.6,348.4 760.6,361.5 770.5,358.6 780.5,357.1 790.4,293.2 800.4,294.7 810.3,278.7" stroke="#00e000" stroke-width="3.1" />
<line x1="163.4" y1="442.3" x2="810.3" y2="442.3" stroke="#fff" stroke-width="1.3"/>
<g stroke-width="0.9">
<polyline points="183.3,557.1 193.3,545.9 203.2,559.8 213.2,555.0 223.1,544.6 233.1,559.8 243.0,559.8 253.0,559.8 262.9,559.8 272.9,559.8 282.8,555.1 292.8,559.8 302.7,555.1 312.7,559.8 322.6,551.1 332.6,493.0 342.5,521.8 352.5,538.1 362.5,559.1 372.4,559.8 382.4,559.8 392.3,559.8 402.3,559.8 412.2,559.8 422.2,559.8 432.1,559.8 442.1,559.8 452.0,559.8 462.0,559.8 471.9,559.8 481.9,559.8 491.8,559.8 501.8,559.8 511.7,559.8 521.7,559.8 531.7,559.8 541.6,552.0 551.6,498.8 561.5,553.0 571.5,559.8 581.4,559.8 591.4,559.8 601.3,559.8 611.3,559.8 621.2,559.8 631.2,559.8 641.1,559.8 651.1,559.8 661.0,559.8 671.0,559.8 681.0,559.8 690.9,554.0 700.9,510.4 710.8,449.6 720.8,461.2 730.7,446.2 740.7,458.6 750.6,532.4 760.6,524.6 770.5,532.4 780.5,528.5 790.4,523.3 800.4,486.3 810.3,546.0" stroke="#0036dc" stroke-width="0.9" />
<polyline points="183.3,559.2 193.3,555.1 203.2,559.8 213.2,554.1 223.1,548.7 233.1,559.8 243.0,559.8 253.0,559.8 262.9,549.0 272.9,559.8 282.8,559.8 292.8,559.8 302.7,559.8 312.7,559.8 322.6,420.7 332.6,500.0 342.5,540.0 352.5,540.1 362.5,556.7 372.4,559.8 382.4,559.8 392.3,559.8 402.3,559.8 412.2,559.8 422.2,559.8 432.1,559.8 442.1,559.8 452.0,559.8 462.0,555.0 471.9,549.7 481.9,559.8 491.8,559.8 501.8,559.8 511.7,559.8 521.7,559.8 531.7,559.8 541.6,559.8 551.6,559.8 561.5,556.0 571.5,541.5 581.4,554.0 591.4,559.8 601.3,559.8 611.3,559.8 621.2,559.8 631.2,559.8 641.1,559.8 651.1,559.8 661.0,559.8 671.0,559.8 681.0,559.8 690.9,559.8 700.9,559.8 710.8,559.8 720.8,559.8 730.7,559.8 740.7,559.8 750.6,559.8 760.6,559.8 770.5,559.8 780.5,559.8 790.4,559.8 800.4,559.8 810.3,559.8" stroke="#0054d0" stroke-width="0.9" />
<polyline points="183.3,556.1 193.3,557.9 203.2,559.8 213.2,557.0 223.1,554.3 233.1,559.8 243.0,559.8 253.0,559.8 262.9,559.8 272.9,559.8 282.8,559.8 292.8,559.8 302.7,559.8 312.7,559.8 322.6,559.8 332.6,531.5 342.5,466.0 352.5,519.1 362.5,558.7 372.4,559.8 382.4,559.8 392.3,559.8 402.3,559.8 412.2,559.8 422.2,559.8 432.1,559.8 442.1,559.8 452.0,559.8 462.0,559.8 471.9,559.8 481.9,559.8 491.8,559.8 501.8,559.8 511.7,559.8 521.7,559.8 531.7,559.8 541.6,559.8 551.6,559.8 561.5,559.8 571.5,559.8 581.4,559.8 591.4,559.8 601.3,559.8 611.3,559.8 621.2,559.8 631.2,559.8 641.1,559.8 651.1,559.8 661.0,559.8 671.0,559.8 681.0,559.8 690.9,559.8 700.9,559.8 710.8,559.8 720.8,559.8 730.7,559.8 740.7,559.8 750.6,559.8 760.6,559.8 770.5,512.5 780.5,530.0 790.4,549.0 800.4,381.0 810.3,544.0" stroke="#0072d2" stroke-width="0.9" />
<polyline points="183.3,557.4 193.3,548.6 203.2,559.8 213.2,559.7 223.1,554.8 233.1,559.8 243.0,559.8 253.0,559.8 262.9,559.8 272.9,559.8 282.8,559.8 292.8,559.8 302.7,559.8 312.7,559.8 322.6,559.8 332.6,547.8 342.5,500.8 352.5,538.5 362.5,557.9 372.4,559.8 382.4,559.8 392.3,559.8 402.3,559.8 412.2,559.8 422.2,559.8 432.1,559.8 442.1,559.8 452.0,559.8 462.0,559.8 471.9,559.8 481.9,559.8 491.8,559.8 501.8,559.8 511.7,553.0 521.7,536.3 531.7,556.0 541.6,559.8 551.6,559.8 561.5,559.8 571.5,559.8 581.4,559.8 591.4,559.8 601.3,559.8 611.3,559.8 621.2,559.8 631.2,559.8 641.1,559.8 651.1,559.8 661.0,559.8 671.0,559.8 681.0,559.8 690.9,559.8 700.9,559.8 710.8,559.8 720.8,559.8 730.7,559.8 740.7,559.8 750.6,559.8 760.6,559.8 770.5,559.8 780.5,559.8 790.4,559.8 800.4,559.8 810.3,559.8" stroke="#0096c8" stroke-width="0.9" />
<polyline points="183.3,558.3 193.3,551.5 203.2,559.8 213.2,555.2 223.1,527.0 233.1,559.8 243.0,559.8 253.0,559.8 262.9,559.8 272.9,559.8 282.8,554.8 292.8,559.8 302.7,559.8 312.7,559.8 322.6,500.0 332.6,401.0 342.5,480.0 352.5,545.0 362.5,558.7 372.4,559.8 382.4,559.8 392.3,559.8 402.3,559.8 412.2,559.8 422.2,559.8 432.1,559.8 442.1,559.8 452.0,559.8 462.0,559.8 471.9,559.8 481.9,559.8 491.8,559.8 501.8,559.8 511.7,559.8 521.7,559.8 531.7,559.8 541.6,559.8 551.6,559.8 561.5,548.0 571.5,526.0 581.4,552.0 591.4,527.0 601.3,454.8 611.3,531.0 621.2,527.0 631.2,552.0 641.1,556.0 651.1,559.8 661.0,559.8 671.0,559.8 681.0,559.8 690.9,559.8 700.9,559.8 710.8,559.8 720.8,559.8 730.7,559.8 740.7,559.8 750.6,559.8 760.6,559.8 770.5,559.8 780.5,559.8 790.4,559.8 800.4,559.8 810.3,559.8" stroke="#00aabe" stroke-width="0.9" />
<polyline points="183.3,558.8 193.3,553.9 203.2,559.8 213.2,559.0 223.1,557.8 233.1,559.8 243.0,559.8 253.0,559.8 262.9,559.8 272.9,559.8 282.8,559.8 292.8,559.8 302.7,555.3 312.7,559.8 322.6,547.2 332.6,499.2 342.5,528.2 352.5,538.1 362.5,557.0 372.4,559.8 382.4,559.8 392.3,559.8 402.3,559.8 412.2,559.8 422.2,559.8 432.1,559.8 442.1,559.8 452.0,559.8 462.0,538.9 471.9,552.0 481.9,559.8 491.8,559.8 501.8,559.8 511.7,559.8 521.7,559.8 531.7,559.8 541.6,559.8 551.6,559.8 561.5,559.8 571.5,559.8 581.4,559.8 591.4,559.8 601.3,559.8 611.3,559.8 621.2,559.8 631.2,559.8 641.1,559.8 651.1,559.8 661.0,559.8 671.0,559.8 681.0,559.8 690.9,559.8 700.9,559.8 710.8,548.0 720.8,502.0 730.7,554.0 740.7,559.8 750.6,559.8 760.6,559.8 770.5,559.8 780.5,559.8 790.4,559.8 800.4,559.8 810.3,559.8" stroke="#00aa8c" stroke-width="0.9" />
<polyline points="183.3,558.6 193.3,554.4 203.2,559.8 213.2,553.9 223.1,545.6 233.1,559.8 243.0,559.8 253.0,559.8 262.9,559.8 272.9,559.8 282.8,559.8 292.8,559.8 302.7,559.8 312.7,559.8 322.6,537.7 332.6,483.0 342.5,545.7 352.5,538.9 362.5,556.1 372.4,556.0 382.4,535.0 392.3,550.0 402.3,556.0 412.2,559.8 422.2,559.8 432.1,559.8 442.1,559.8 452.0,559.8 462.0,518.2 471.9,548.0 481.9,559.8 491.8,559.8 501.8,559.8 511.7,559.8 521.7,559.8 531.7,559.8 541.6,559.8 551.6,559.8 561.5,559.8 571.5,556.0 581.4,536.0 591.4,552.0 601.3,540.0 611.3,556.0 621.2,559.8 631.2,559.8 641.1,559.8 651.1,559.8 661.0,559.8 671.0,559.8 681.0,559.8 690.9,559.8 700.9,559.8 710.8,559.8 720.8,559.8 730.7,559.8 740.7,559.8 750.6,559.8 760.6,559.8 770.5,559.8 780.5,559.8 790.4,559.8 800.4,559.8 810.3,559.8" stroke="#00a868" stroke-width="0.9" />
<polyline points="183.3,558.3 193.3,551.1 203.2,559.8 213.2,556.6 223.1,548.3 233.1,559.8 243.0,559.8 253.0,559.8 262.9,559.8 272.9,559.8 282.8,559.8 292.8,559.8 302.7,559.8 312.7,559.8 322.6,533.6 332.6,449.6 342.5,514.8 352.5,536.4 362.5,557.7 372.4,552.0 382.4,523.0 392.3,552.0 402.3,559.8 412.2,559.8 422.2,559.8 432.1,559.8 442.1,559.8 452.0,559.8 462.0,559.8 471.9,559.8 481.9,559.8 491.8,559.8 501.8,559.8 511.7,559.8 521.7,559.8 531.7,559.8 541.6,559.8 551.6,559.8 561.5,559.8 571.5,559.8 581.4,559.8 591.4,559.8 601.3,559.8 611.3,559.8 621.2,559.8 631.2,559.8 641.1,559.8 651.1,559.8 661.0,559.8 671.0,559.8 681.0,559.8 690.9,559.8 700.9,559.8 710.8,552.0 720.8,510.4 730.7,556.0 740.7,559.8 750.6,559.8 760.6,559.8 770.5,559.8 780.5,559.8 790.4,556.0 800.4,542.7 810.3,552.0" stroke="#00b050" stroke-width="0.9" />
<polyline points="183.3,558.6 193.3,551.3 203.2,559.8 213.2,555.7 223.1,544.3 233.1,559.8 243.0,559.8 253.0,559.8 262.9,559.8 272.9,559.8 282.8,554.3 292.8,559.8 302.7,559.8 312.7,559.8 322.6,520.0 332.6,363.4 342.5,470.0 352.5,540.0 362.5,559.0 372.4,559.8 382.4,559.8 392.3,559.8 402.3,559.8 412.2,559.8 422.2,559.8 432.1,559.8 442.1,559.8 452.0,559.8 462.0,559.8 471.9,559.8 481.9,559.8 491.8,559.8 501.8,559.8 511.7,555.0 521.7,543.5 531.7,556.0 541.6,559.8 551.6,559.8 561.5,559.8 571.5,559.8 581.4,559.8 591.4,559.8 601.3,559.8 611.3,559.8 621.2,559.8 631.2,559.8 641.1,559.8 651.1,559.8 661.0,519.5 671.0,559.8 681.0,559.8 690.9,557.0 700.9,503.4 710.8,539.0 720.8,557.0 730.7,559.8 740.7,559.8 750.6,559.8 760.6,559.8 770.5,556.0 780.5,533.7 790.4,555.0 800.4,559.8 810.3,559.8" stroke="#00bc28" stroke-width="0.9" />
<polyline points="183.3,558.3 193.3,552.0 203.2,559.8 213.2,558.8 223.1,555.8 233.1,559.8 243.0,559.8 253.0,559.8 262.9,559.8 272.9,559.8 282.8,559.8 292.8,559.8 302.7,559.8 312.7,559.8 322.6,559.8 332.6,554.1 342.5,521.2 352.5,542.7 362.5,559.6 372.4,559.8 382.4,559.8 392.3,559.8 402.3,554.0 412.2,551.0 422.2,559.8 432.1,559.8 442.1,559.8 452.0,559.8 462.0,559.8 471.9,559.8 481.9,559.8 491.8,559.8 501.8,559.8 511.7,559.8 521.7,559.8 531.7,559.8 541.6,559.8 551.6,559.8 561.5,559.8 571.5,559.8 581.4,559.8 591.4,559.8 601.3,559.8 611.3,559.8 621.2,559.8 631.2,559.8 641.1,559.8 651.1,559.8 661.0,559.8 671.0,559.8 681.0,559.8 690.9,559.8 700.9,559.8 710.8,559.8 720.8,559.8 730.7,559.8 740.7,559.8 750.6,559.8 760.6,559.8 770.5,559.8 780.5,559.8 790.4,559.8 800.4,559.8 810.3,559.8" stroke="#00c800" stroke-width="0.9" />
<polyline points="183.3,559.1 193.3,556.4 203.2,559.8 213.2,556.2 223.1,557.8 233.1,559.8 243.0,559.8 253.0,559.8 262.9,559.8 272.9,559.8 282.8,559.8 292.8,559.8 302.7,556.1 312.7,559.8 322.6,545.0 332.6,450.0 342.5,416.0 352.5,500.0 362.5,557.6 372.4,559.8 382.4,559.8 392.3,559.8 402.3,559.8 412.2,559.8 422.2,559.8 432.1,559.8 442.1,559.8 452.0,559.8 462.0,559.8 471.9,559.8 481.9,559.8 491.8,559.8 501.8,559.8 511.7,559.8 521.7,559.8 531.7,559.8 541.6,559.8 551.6,559.8 561.5,559.8 571.5,556.0 581.4,514.0 591.4,555.0 601.3,559.8 611.3,559.8 621.2,559.8 631.2,559.8 641.1,559.8 651.1,559.8 661.0,559.8 671.0,559.8 681.0,559.8 690.9,559.8 700.9,559.8 710.8,559.8 720.8,559.8 730.7,559.8 740.7,559.8 750.6,559.8 760.6,559.8 770.5,559.8 780.5,559.8 790.4,559.8 800.4,559.8 810.3,559.8" stroke="#d2c800" stroke-width="0.9" />
<polyline points="183.3,558.1 193.3,556.3 203.2,559.8 213.2,554.9 223.1,551.1 233.1,559.8 243.0,559.8 253.0,556.0 262.9,541.2 272.9,556.0 282.8,559.8 292.8,559.8 302.7,559.8 312.7,559.8 322.6,546.6 332.6,519.4 342.5,543.8 352.5,553.9 362.5,556.2 372.4,559.8 382.4,559.8 392.3,559.8 402.3,559.8 412.2,559.8 422.2,553.6 432.1,559.8 442.1,559.8 452.0,559.8 462.0,559.8 471.9,559.8 481.9,559.8 491.8,559.8 501.8,559.8 511.7,559.8 521.7,559.8 531.7,559.8 541.6,559.8 551.6,559.8 561.5,559.8 571.5,559.8 581.4,559.8 591.4,559.8 601.3,559.8 611.3,559.8 621.2,559.8 631.2,559.8 641.1,476.8 651.1,559.8 661.0,559.8 671.0,559.8 681.0,559.8 690.9,559.8 700.9,559.8 710.8,559.8 720.8,559.8 730.7,559.8 740.7,559.8 750.6,559.8 760.6,559.8 770.5,559.8 780.5,559.8 790.4,559.8 800.4,559.8 810.3,559.8" stroke="#d2b400" stroke-width="0.9" />
<polyline points="183.3,558.2 193.3,550.1 203.2,559.8 213.2,555.6 223.1,557.0 233.1,559.8 243.0,559.8 253.0,559.8 262.9,559.8 272.9,559.8 282.8,553.9 292.8,559.8 302.7,559.8 312.7,557.2 322.6,527.9 332.6,542.8 342.5,559.8 352.5,542.6 362.5,557.6 372.4,559.8 382.4,559.8 392.3,553.0 402.3,556.0 412.2,553.0 422.2,559.8 432.1,559.8 442.1,559.8 452.0,559.8 462.0,559.8 471.9,559.8 481.9,559.8 491.8,559.8 501.8,559.8 511.7,559.8 521.7,559.8 531.7,559.8 541.6,559.8 551.6,556.0 561.5,476.8 571.5,439.2 581.4,515.6 591.4,554.0 601.3,559.8 611.3,559.8 621.2,559.8 631.2,559.8 641.1,559.8 651.1,559.8 661.0,559.8 671.0,559.8 681.0,559.8 690.9,559.8 700.9,559.8 710.8,524.6 720.8,487.0 730.7,544.0 740.7,523.3 750.6,544.0 760.6,557.0 770.5,559.8 780.5,559.8 790.4,559.8 800.4,559.8 810.3,559.8" stroke="#d29e00" stroke-width="0.9" />
<polyline points="183.3,559.2 193.3,552.8 203.2,559.8 213.2,554.7 223.1,557.5 233.1,559.8 243.0,559.8 253.0,559.8 262.9,559.8 272.9,559.8 282.8,559.8 292.8,559.8 302.7,559.8 312.7,558.9 322.6,513.1 332.6,543.2 342.5,559.8 352.5,536.0 362.5,558.6 372.4,559.8 382.4,559.8 392.3,559.8 402.3,559.8 412.2,559.8 422.2,559.8 432.1,559.8 442.1,559.8 452.0,559.8 462.0,559.8 471.9,559.8 481.9,559.8 491.8,559.8 501.8,559.8 511.7,559.8 521.7,559.8 531.7,559.8 541.6,559.8 551.6,559.8 561.5,559.8 571.5,559.8 581.4,559.8 591.4,559.8 601.3,559.8 611.3,559.8 621.2,559.8 631.2,559.8 641.1,559.8 651.1,559.8 661.0,559.8 671.0,559.8 681.0,559.8 690.9,559.8 700.9,559.8 710.8,559.8 720.8,559.8 730.7,559.8 740.7,559.8 750.6,559.8 760.6,559.8 770.5,559.8 780.5,559.8 790.4,559.8 800.4,559.8 810.3,559.8" stroke="#d28a00" stroke-width="0.9" />
<polyline points="183.3,556.5 193.3,555.9 203.2,559.8 213.2,556.3 223.1,557.7 233.1,559.8 243.0,559.8 253.0,559.8 262.9,559.8 272.9,559.8 282.8,559.8 292.8,559.8 302.7,559.8 312.7,559.8 322.6,532.1 332.6,493.2 342.5,531.8 352.5,550.6 362.5,559.2 372.4,559.8 382.4,559.8 392.3,559.8 402.3,559.8 412.2,559.8 422.2,559.8 432.1,559.8 442.1,559.8 452.0,559.8 462.0,559.8 471.9,559.8 481.9,559.8 491.8,559.8 501.8,559.8 511.7,559.8 521.7,559.8 531.7,559.8 541.6,559.8 551.6,559.8 561.5,559.8 571.5,559.8 581.4,559.8 591.4,559.8 601.3,442.6 611.3,559.8 621.2,559.8 631.2,486.6 641.1,559.8 651.1,559.8 661.0,559.8 671.0,559.8 681.0,559.8 690.9,556.0 700.9,524.6 710.8,556.0 720.8,559.8 730.7,559.8 740.7,559.8 750.6,559.8 760.6,559.8 770.5,559.8 780.5,559.8 790.4,559.8 800.4,559.8 810.3,559.8" stroke="#d27800" stroke-width="0.9" />
<polyline points="183.3,559.1 193.3,554.9 203.2,559.8 213.2,554.1 223.1,555.0 233.1,559.8 243.0,559.8 253.0,559.8 262.9,559.8 272.9,559.8 282.8,559.8 292.8,559.8 302.7,555.8 312.7,559.8 322.6,559.8 332.6,555.0 342.5,525.5 352.5,554.1 362.5,556.5 372.4,559.8 382.4,559.8 392.3,559.8 402.3,559.8 412.2,559.8 422.2,559.8 432.1,559.8 442.1,559.8 452.0,559.8 462.0,559.8 471.9,559.8 481.9,559.8 491.8,559.8 501.8,559.8 511.7,559.8 521.7,559.8 531.7,559.8 541.6,559.8 551.6,559.8 561.5,559.8 571.5,559.8 581.4,559.8 591.4,559.8 601.3,559.8 611.3,559.8 621.2,559.8 631.2,559.8 641.1,559.8 651.1,559.8 661.0,559.8 671.0,559.8 681.0,559.8 690.9,559.8 700.9,559.8 710.8,559.8 720.8,559.8 730.7,559.8 740.7,559.8 750.6,559.8 760.6,559.8 770.5,559.8 780.5,559.8 790.4,559.8 800.4,559.8 810.3,559.8" stroke="#c86a00" stroke-width="0.9" />
<polyline points="183.3,556.0 193.3,551.3 203.2,559.8 213.2,557.7 223.1,552.8 233.1,559.8 243.0,559.8 253.0,559.8 262.9,559.8 272.9,559.8 282.8,556.2 292.8,559.8 302.7,559.8 312.7,559.8 322.6,559.8 332.6,525.3 342.5,454.3 352.5,541.8 362.5,556.2 372.4,559.8 382.4,559.8 392.3,559.8 402.3,559.8 412.2,559.8 422.2,559.8 432.1,559.8 442.1,559.8 452.0,559.8 462.0,559.8 471.9,559.8 481.9,559.8 491.8,559.8 501.8,559.8 511.7,559.8 521.7,559.8 531.7,559.8 541.6,559.8 551.6,559.8 561.5,559.8 571.5,559.8 581.4,559.8 591.4,559.8 601.3,559.8 611.3,559.8 621.2,559.8 631.2,559.8 641.1,559.8 651.1,559.8 661.0,559.8 671.0,559.8 681.0,559.8 690.9,559.8 700.9,559.8 710.8,559.8 720.8,559.8 730.7,559.8 740.7,559.8 750.6,559.8 760.6,559.8 770.5,559.8 780.5,559.8 790.4,559.8 800.4,559.8 810.3,559.8" stroke="#c85a00" stroke-width="0.9" />
<polyline points="183.3,556.6 193.3,557.9 203.2,559.8 213.2,555.3 223.1,523.3 233.1,559.8 243.0,559.8 253.0,559.8 262.9,559.8 272.9,559.8 282.8,559.8 292.8,559.8 302.7,559.8 312.7,559.8 322.6,325.0 332.6,520.0 342.5,548.0 352.5,542.1 362.5,558.3 372.4,559.8 382.4,453.0 392.3,559.8 402.3,559.8 412.2,559.8 422.2,559.8 432.1,559.8 442.1,559.8 452.0,559.8 462.0,559.8 471.9,559.8 481.9,559.8 491.8,559.8 501.8,559.8 511.7,559.8 521.7,559.8 531.7,559.8 541.6,559.8 551.6,559.8 561.5,559.8 571.5,559.8 581.4,559.8 591.4,559.8 601.3,559.8 611.3,559.8 621.2,559.8 631.2,559.8 641.1,559.8 651.1,559.8 661.0,559.8 671.0,559.8 681.0,559.8 690.9,559.8 700.9,559.8 710.8,559.8 720.8,559.8 730.7,559.8 740.7,559.8 750.6,559.8 760.6,559.8 770.5,559.8 780.5,559.8 790.4,559.8 800.4,559.8 810.3,559.8" stroke="#c84a1e" stroke-width="0.9" />
<polyline points="183.3,556.3 193.3,557.2 203.2,559.8 213.2,554.1 223.1,556.5 233.1,559.8 243.0,559.8 253.0,559.8 262.9,559.8 272.9,559.8 282.8,559.8 292.8,559.8 302.7,559.8 312.7,559.8 322.6,525.9 332.6,435.7 342.5,521.6 352.5,551.8 362.5,555.9 372.4,559.8 382.4,559.8 392.3,559.8 402.3,559.8 412.2,559.8 422.2,559.8 432.1,559.8 442.1,559.8 452.0,559.8 462.0,559.8 471.9,559.8 481.9,559.8 491.8,559.8 501.8,556.0 511.7,544.6 521.7,552.0 531.7,559.8 541.6,559.8 551.6,559.8 561.5,559.8 571.5,559.8 581.4,559.8 591.4,559.8 601.3,559.8 611.3,559.8 621.2,559.8 631.2,557.0 641.1,539.0 651.1,557.0 661.0,559.8 671.0,512.5 681.0,510.0 690.9,559.8 700.9,559.8 710.8,559.8 720.8,559.8 730.7,559.8 740.7,559.8 750.6,559.8 760.6,559.8 770.5,559.8 780.5,559.8 790.4,553.0 800.4,540.7 810.3,548.0" stroke="#b83220" stroke-width="0.9" />
<polyline points="183.3,558.1 193.3,553.9 203.2,559.8 213.2,554.3 223.1,553.0 233.1,559.8 243.0,559.8 253.0,559.8 262.9,559.8 272.9,559.8 282.8,559.8 292.8,559.8 302.7,559.8 312.7,559.8 322.6,531.7 332.6,478.7 342.5,512.7 352.5,553.7 362.5,559.6 372.4,559.8 382.4,559.8 392.3,559.8 402.3,559.8 412.2,559.8 422.2,559.8 432.1,559.8 442.1,559.8 452.0,559.8 462.0,559.8 471.9,559.8 481.9,559.8 491.8,559.8 501.8,559.8 511.7,559.8 521.7,559.8 531.7,559.8 541.6,559.8 551.6,559.8 561.5,559.8 571.5,559.8 581.4,559.8 591.4,559.8 601.3,559.8 611.3,559.8 621.2,559.8 631.2,559.8 641.1,559.8 651.1,559.8 661.0,559.8 671.0,559.8 681.0,559.8 690.9,559.8 700.9,559.8 710.8,559.8 720.8,559.8 730.7,559.8 740.7,559.8 750.6,559.8 760.6,559.8 770.5,559.8 780.5,559.8 790.4,559.8 800.4,559.8 810.3,559.8" stroke="#a01a1a" stroke-width="0.9" />
<polyline points="183.3,556.1 193.3,554.4 203.2,559.8 213.2,557.9 223.1,553.4 233.1,559.8 243.0,559.8 253.0,559.8 262.9,559.8 272.9,559.8 282.8,557.9 292.8,559.8 302.7,558.5 312.7,559.8 322.6,541.8 332.6,455.8 342.5,500.8 352.5,540.3 362.5,558.8 372.4,559.8 382.4,559.8 392.3,559.8 402.3,559.8 412.2,559.8 422.2,559.8 432.1,559.8 442.1,559.8 452.0,559.8 462.0,559.8 471.9,559.8 481.9,559.8 491.8,559.8 501.8,559.8 511.7,559.8 521.7,559.8 531.7,559.8 541.6,559.8 551.6,559.8 561.5,559.8 571.5,559.8 581.4,559.8 591.4,559.8 601.3,559.8 611.3,559.8 621.2,559.8 631.2,559.8 641.1,559.8 651.1,559.8 661.0,559.8 671.0,559.8 681.0,559.8 690.9,559.8 700.9,559.8 710.8,559.8 720.8,559.8 730.7,559.8 740.7,559.8 750.6,559.8 760.6,559.8 770.5,559.8 780.5,559.8 790.4,559.8 800.4,559.8 810.3,559.8" stroke="#0054d0" stroke-width="0.9" />
<polyline points="183.3,558.8 193.3,546.8 203.2,559.8 213.2,553.8 223.1,555.5 233.1,559.8 243.0,559.8 253.0,559.8 262.9,559.8 272.9,559.8 282.8,559.8 292.8,559.8 302.7,559.8 312.7,559.8 322.6,547.6 332.6,491.4 342.5,536.1 352.5,535.0 362.5,557.7 372.4,559.8 382.4,559.8 392.3,559.8 402.3,559.8 412.2,559.8 422.2,559.8 432.1,559.8 442.1,559.8 452.0,559.8 462.0,559.8 471.9,559.8 481.9,559.8 491.8,559.8 501.8,559.8 511.7,559.8 521.7,559.8 531.7,559.8 541.6,559.8 551.6,559.8 561.5,559.8 571.5,559.8 581.4,559.8 591.4,559.8 601.3,559.8 611.3,559.8 621.2,559.8 631.2,559.8 641.1,559.8 651.1,559.8 661.0,559.8 671.0,559.8 681.0,559.8 690.9,559.8 700.9,559.8 710.8,559.8 720.8,559.8 730.7,559.8 740.7,559.8 750.6,559.8 760.6,559.8 770.5,559.8 780.5,559.8 790.4,559.8 800.4,559.8 810.3,559.8" stroke="#0072d2" stroke-width="0.9" />
<polyline points="183.3,559.1 193.3,550.9 203.2,559.8 213.2,556.6 223.1,552.1 233.1,559.8 243.0,559.8 253.0,559.8 262.9,559.8 272.9,559.8 282.8,559.8 292.8,559.8 302.7,559.8 312.7,559.8 322.6,559.8 332.6,555.7 342.5,488.6 352.5,548.2 362.5,557.0 372.4,559.8 382.4,559.8 392.3,559.8 402.3,559.8 412.2,559.8 422.2,559.8 432.1,559.8 442.1,559.8 452.0,559.8 462.0,559.8 471.9,559.8 481.9,559.8 491.8,559.8 501.8,559.8 511.7,559.8 521.7,559.8 531.7,559.8 541.6,559.8 551.6,559.8 561.5,559.8 571.5,559.8 581.4,559.8 591.4,559.8 601.3,559.8 611.3,559.8 621.2,559.8 631.2,559.8 641.1,559.8 651.1,559.8 661.0,559.8 671.0,559.8 681.0,559.8 690.9,559.8 700.9,559.8 710.8,559.8 720.8,559.8 730.7,559.8 740.7,559.8 750.6,559.8 760.6,559.8 770.5,559.8 780.5,559.8 790.4,559.8 800.4,559.8 810.3,559.8" stroke="#0096c8" stroke-width="0.9" />
<polyline points="183.3,558.5 193.3,554.0 203.2,559.8 213.2,554.8 223.1,551.4 233.1,559.8 243.0,559.8 253.0,559.8 262.9,559.8 272.9,559.8 282.8,559.8 292.8,559.8 302.7,559.8 312.7,559.8 322.6,559.8 332.6,552.6 342.5,531.8 352.5,541.2 362.5,557.4 372.4,559.8 382.4,559.8 392.3,559.8 402.3,559.8 412.2,559.8 422.2,559.8 432.1,559.8 442.1,559.8 452.0,559.8 462.0,559.8 471.9,559.8 481.9,559.8 491.8,559.8 501.8,559.8 511.7,559.8 521.7,559.8 531.7,559.8 541.6,559.8 551.6,559.8 561.5,559.8 571.5,559.8 581.4,559.8 591.4,559.8 601.3,559.8 611.3,559.8 621.2,559.8 631.2,559.8 641.1,559.8 651.1,559.8 661.0,559.8 671.0,559.8 681.0,559.8 690.9,559.8 700.9,559.8 710.8,559.8 720.8,559.8 730.7,559.8 740.7,559.8 750.6,559.8 760.6,559.8 770.5,559.8 780.5,559.8 790.4,559.8 800.4,559.8 810.3,559.8" stroke="#00aabe" stroke-width="0.9" />
<polyline points="183.3,557.8 193.3,556.9 203.2,559.8 213.2,554.3 223.1,557.3 233.1,559.8 243.0,559.8 253.0,559.8 262.9,559.8 272.9,559.8 282.8,556.3 292.8,559.8 302.7,559.8 312.7,557.7 322.6,553.6 332.6,558.8 342.5,559.8 352.5,542.6 362.5,559.0 372.4,559.8 382.4,559.8 392.3,559.8 402.3,559.8 412.2,559.8 422.2,559.8 432.1,559.8 442.1,559.8 452.0,559.8 462.0,559.8 471.9,559.8 481.9,559.8 491.8,559.8 501.8,559.8 511.7,559.8 521.7,559.8 531.7,559.8 541.6,559.8 551.6,559.8 561.5,559.8 571.5,559.8 581.4,559.8 591.4,559.8 601.3,559.8 611.3,559.8 621.2,559.8 631.2,559.8 641.1,559.8 651.1,559.8 661.0,559.8 671.0,559.8 681.0,559.8 690.9,559.8 700.9,559.8 710.8,559.8 720.8,559.8 730.7,559.8 740.7,559.8 750.6,559.8 760.6,559.8 770.5,559.8 780.5,559.8 790.4,559.8 800.4,559.8 810.3,559.8" stroke="#00aa8c" stroke-width="0.9" />
<polyline points="183.3,556.4 193.3,557.8 203.2,559.8 213.2,555.4 223.1,544.5 233.1,559.8 243.0,559.8 253.0,559.8 262.9,559.8 272.9,559.8 282.8,559.8 292.8,559.8 302.7,556.3 312.7,559.8 322.6,540.1 332.6,496.2 342.5,530.9 352.5,544.0 362.5,557.9 372.4,559.8 382.4,559.8 392.3,559.8 402.3,559.8 412.2,559.8 422.2,559.8 432.1,559.8 442.1,559.8 452.0,559.8 462.0,559.8 471.9,559.8 481.9,559.8 491.8,559.8 501.8,559.8 511.7,559.8 521.7,559.8 531.7,559.8 541.6,559.8 551.6,559.8 561.5,559.8 571.5,559.8 581.4,559.8 591.4,559.8 601.3,559.8 611.3,559.8 621.2,559.8 631.2,559.8 641.1,559.8 651.1,559.8 661.0,559.8 671.0,559.8 681.0,559.8 690.9,559.8 700.9,559.8 710.8,559.8 720.8,559.8 730.7,559.8 740.7,559.8 750.6,559.8 760.6,559.8 770.5,559.8 780.5,559.8 790.4,559.8 800.4,559.8 810.3,559.8" stroke="#00a868" stroke-width="0.9" />
<polyline points="183.3,556.5 193.3,540.3 203.2,559.8 213.2,557.2 223.1,555.7 233.1,559.8 243.0,559.8 253.0,559.8 262.9,559.8 272.9,559.8 282.8,559.8 292.8,559.8 302.7,559.8 312.7,559.8 322.6,544.4 332.6,518.6 342.5,537.2 352.5,548.2 362.5,556.8 372.4,559.8 382.4,559.8 392.3,559.8 402.3,559.8 412.2,559.8 422.2,559.8 432.1,559.8 442.1,559.8 452.0,559.8 462.0,559.8 471.9,559.8 481.9,559.8 491.8,559.8 501.8,559.8 511.7,559.8 521.7,559.8 531.7,559.8 541.6,559.8 551.6,559.8 561.5,559.8 571.5,559.8 581.4,559.8 591.4,559.8 601.3,559.8 611.3,559.8 621.2,559.8 631.2,559.8 641.1,559.8 651.1,559.8 661.0,559.8 671.0,559.8 681.0,559.8 690.9,559.8 700.9,559.8 710.8,559.8 720.8,559.8 730.7,559.8 740.7,559.8 750.6,559.8 760.6,559.8 770.5,559.8 780.5,559.8 790.4,559.8 800.4,559.8 810.3,559.8" stroke="#00b050" stroke-width="0.9" />
<polyline points="183.3,556.3 193.3,553.1 203.2,559.8 213.2,557.1 223.1,543.8 233.1,559.8 243.0,559.8 253.0,559.8 262.9,559.8 272.9,559.8 282.8,559.8 292.8,559.8 302.7,559.8 312.7,559.8 322.6,543.2 332.6,491.9 342.5,543.3 352.5,540.3 362.5,556.2 372.4,559.8 382.4,559.8 392.3,559.8 402.3,559.8 412.2,559.8 422.2,559.8 432.1,559.8 442.1,559.8 452.0,559.8 462.0,559.8 471.9,559.8 481.9,559.8 491.8,559.8 501.8,559.8 511.7,559.8 521.7,559.8 531.7,559.8 541.6,559.8 551.6,559.8 561.5,559.8 571.5,559.8 581.4,559.8 591.4,559.8 601.3,559.8 611.3,559.8 621.2,559.8 631.2,559.8 641.1,559.8 651.1,559.8 661.0,559.8 671.0,559.8 681.0,559.8 690.9,559.8 700.9,559.8 710.8,559.8 720.8,559.8 730.7,559.8 740.7,559.8 750.6,559.8 760.6,559.8 770.5,559.8 780.5,559.8 790.4,559.8 800.4,559.8 810.3,559.8" stroke="#00bc28" stroke-width="0.9" />
<polyline points="183.3,556.3 193.3,551.0 203.2,559.8 213.2,557.1 223.1,551.0 233.1,559.8 243.0,559.8 253.0,559.8 262.9,559.8 272.9,559.8 282.8,555.2 292.8,559.8 302.7,559.8 312.7,559.8 322.6,551.6 332.6,541.6 342.5,549.1 352.5,546.4 362.5,558.1 372.4,559.8 382.4,559.8 392.3,559.8 402.3,559.8 412.2,559.8 422.2,559.8 432.1,559.8 442.1,559.8 452.0,559.8 462.0,559.8 471.9,559.8 481.9,559.8 491.8,559.8 501.8,559.8 511.7,559.8 521.7,559.8 531.7,559.8 541.6,559.8 551.6,559.8 561.5,559.8 571.5,559.8 581.4,559.8 591.4,559.8 601.3,559.8 611.3,559.8 621.2,559.8 631.2,559.8 641.1,559.8 651.1,559.8 661.0,559.8 671.0,559.8 681.0,559.8 690.9,559.8 700.9,559.8 710.8,559.8 720.8,559.8 730.7,559.8 740.7,559.8 750.6,559.8 760.6,559.8 770.5,559.8 780.5,559.8 790.4,559.8 800.4,559.8 810.3,559.8" stroke="#00c800" stroke-width="0.9" />
<polyline points="183.3,557.6 193.3,556.5 203.2,559.8 213.2,557.4 223.1,555.7 233.1,559.8 243.0,559.8 253.0,559.8 262.9,559.8 272.9,559.8 282.8,559.8 292.8,559.8 302.7,559.8 312.7,559.8 322.6,559.8 332.6,522.0 342.5,469.4 352.5,515.0 362.5,559.7 372.4,559.8 382.4,559.8 392.3,559.8 402.3,559.8 412.2,559.8 422.2,559.8 432.1,559.8 442.1,559.8 452.0,559.8 462.0,559.8 471.9,559.8 481.9,559.8 491.8,559.8 501.8,559.8 511.7,559.8 521.7,559.8 531.7,559.8 541.6,559.8 551.6,559.8 561.5,559.8 571.5,559.8 581.4,559.8 591.4,559.8 601.3,559.8 611.3,559.8 621.2,559.8 631.2,559.8 641.1,559.8 651.1,559.8 661.0,559.8 671.0,559.8 681.0,559.8 690.9,559.8 700.9,559.8 710.8,559.8 720.8,559.8 730.7,559.8 740.7,559.8 750.6,559.8 760.6,559.8 770.5,556.0 780.5,538.0 790.4,556.0 800.4,559.8 810.3,559.8" stroke="#d2c800" stroke-width="0.9" />
</g>
<polyline points="183.3,558.8 193.3,557.5 203.2,559.8 213.2,558.0 223.1,551.0 233.1,559.8 243.0,559.8 253.0,559.8 262.9,559.8 272.9,559.8 282.8,559.8 292.8,559.8 302.7,559.8 312.7,559.8 322.6,538.0 332.6,536.6 342.5,550.5 352.5,533.5 362.5,557.0 372.4,559.8 382.4,559.8 392.3,559.8 402.3,559.8 412.2,559.8 422.2,559.8 432.1,559.8 442.1,559.8 452.0,559.8 462.0,559.8 471.9,559.8 481.9,559.8 491.8,559.8 501.8,559.8 511.7,559.8 521.7,559.8 531.7,559.8 541.6,559.8 551.6,559.8 561.5,559.8 571.5,559.8 581.4,559.8 591.4,559.8 601.3,559.8 611.3,559.8 621.2,559.8 631.2,559.8 641.1,559.8 651.1,559.8 661.0,559.8 671.0,559.8 681.0,523.3 690.9,559.8 700.9,559.8 710.8,559.8 720.8,559.8 730.7,559.8 740.7,559.8 750.6,559.8 760.6,559.8 770.5,559.8 780.5,500.0 790.4,559.8 800.4,556.0 810.3,552.0" stroke="#0000ff" stroke-width="3.1" />
<polyline points="183.3,558.3 193.3,556.5 203.2,559.5 213.2,557.0 223.1,547.5 233.1,558.5 243.0,558.3 253.0,558.3 262.9,557.0 272.9,558.3 282.8,557.5 292.8,558.3 302.7,558.3 312.7,559.8 322.6,540.0 332.6,519.0 342.5,528.7 352.5,543.5 362.5,557.5 372.4,558.0 382.4,553.0 392.3,558.0 402.3,558.3 412.2,558.3 422.2,558.3 432.1,558.3 442.1,558.3 452.0,558.3 462.0,556.5 471.9,557.5 481.9,558.3 491.8,558.3 501.8,558.3 511.7,558.3 521.7,558.3 531.7,558.3 541.6,558.3 551.6,557.0 561.5,555.5 571.5,553.0 581.4,555.5 591.4,556.0 601.3,552.3 611.3,557.0 621.2,558.3 631.2,556.0 641.1,555.5 651.1,558.3 661.0,558.3 671.0,558.3 681.0,556.0 690.9,556.5 700.9,552.3 710.8,552.5 720.8,549.7 730.7,554.4 740.7,555.0 750.6,556.5 760.6,557.0 770.5,555.5 780.5,551.8 790.4,555.7 800.4,549.7 810.3,558.3" stroke="#ffffff" stroke-width="2.75" />
<polyline points="183.3,558.3 193.3,556.8 203.2,560.0 213.2,557.3 223.1,543.0 233.1,558.5 243.0,559.8 253.0,559.8 262.9,559.8 272.9,559.8 282.8,559.8 292.8,559.8 302.7,559.8 312.7,559.8 322.6,539.0 332.6,436.5 342.5,427.4 352.5,513.5 362.5,559.8 372.4,559.8 382.4,559.8 392.3,559.8 402.3,559.8 412.2,559.8 422.2,559.8 432.1,559.8 442.1,559.8 452.0,559.8 462.0,559.8 471.9,559.8 481.9,559.8 491.8,559.8 501.8,559.8 511.7,559.8 521.7,559.8 531.7,546.6 541.6,533.2 551.6,473.7 561.5,559.8 571.5,559.8 581.4,559.8 591.4,559.8 601.3,559.8 611.3,559.8 621.2,559.8 631.2,559.8 641.1,559.8 651.1,559.8 661.0,559.8 671.0,559.8 681.0,559.8 690.9,559.8 700.9,559.8 710.8,559.8 720.8,559.8 730.7,559.8 740.7,559.8 750.6,559.8 760.6,559.8 770.5,559.8 780.5,559.8 790.4,559.8 800.4,559.8 810.3,559.8" stroke="#00e000" stroke-width="3.1" />
</g>
<g stroke="#fff" stroke-width="1.3" fill="none">
<line x1="163.4" y1="30.4" x2="163.4" y2="560.6"/>
<line x1="810.3" y1="30.4" x2="810.3" y2="560.6"/>
<line x1="162.8" y1="30.4" x2="810.9" y2="30.4"/>
<line x1="162.8" y1="560.3" x2="184.3" y2="560.3"/>
</g>
<g stroke="#fff" stroke-width="1.1">
<line x1="804.9" y1="560.0" x2="810.3" y2="560.0"/>
<line x1="807.0" y1="546.8" x2="810.3" y2="546.8"/>
<line x1="804.9" y1="533.5" x2="810.3" y2="533.5"/>
<line x1="807.0" y1="520.3" x2="810.3" y2="520.3"/>
<line x1="804.9" y1="507.0" x2="810.3" y2="507.0"/>
<line x1="807.0" y1="493.8" x2="810.3" y2="493.8"/>
<line x1="804.9" y1="480.6" x2="810.3" y2="480.6"/>
<line x1="807.0" y1="467.3" x2="810.3" y2="467.3"/>
<line x1="804.9" y1="454.1" x2="810.3" y2="454.1"/>
<line x1="807.0" y1="440.8" x2="810.3" y2="440.8"/>
<line x1="804.9" y1="427.6" x2="810.3" y2="427.6"/>
<line x1="807.0" y1="414.4" x2="810.3" y2="414.4"/>
<line x1="804.9" y1="401.1" x2="810.3" y2="401.1"/>
<line x1="807.0" y1="387.9" x2="810.3" y2="387.9"/>
<line x1="804.9" y1="374.6" x2="810.3" y2="374.6"/>
<line x1="807.0" y1="361.4" x2="810.3" y2="361.4"/>
<line x1="804.9" y1="348.2" x2="810.3" y2="348.2"/>
<line x1="807.0" y1="334.9" x2="810.3" y2="334.9"/>
<line x1="804.9" y1="321.7" x2="810.3" y2="321.7"/>
<line x1="807.0" y1="308.4" x2="810.3" y2="308.4"/>
<line x1="804.9" y1="295.2" x2="810.3" y2="295.2"/>
<line x1="807.0" y1="282.0" x2="810.3" y2="282.0"/>
<line x1="804.9" y1="268.7" x2="810.3" y2="268.7"/>
<line x1="807.0" y1="255.5" x2="810.3" y2="255.5"/>
<line x1="804.9" y1="242.2" x2="810.3" y2="242.2"/>
<line x1="807.0" y1="229.0" x2="810.3" y2="229.0"/>
<line x1="804.9" y1="215.8" x2="810.3" y2="215.8"/>
<line x1="807.0" y1="202.5" x2="810.3" y2="202.5"/>
<line x1="804.9" y1="189.3" x2="810.3" y2="189.3"/>
<line x1="807.0" y1="176.0" x2="810.3" y2="176.0"/>
<line x1="804.9" y1="162.8" x2="810.3" y2="162.8"/>
<line x1="807.0" y1="149.6" x2="810.3" y2="149.6"/>
<line x1="804.9" y1="136.3" x2="810.3" y2="136.3"/>
<line x1="807.0" y1="123.1" x2="810.3" y2="123.1"/>
<line x1="804.9" y1="109.8" x2="810.3" y2="109.8"/>
<line x1="807.0" y1="96.6" x2="810.3" y2="96.6"/>
<line x1="804.9" y1="83.4" x2="810.3" y2="83.4"/>
<line x1="807.0" y1="70.1" x2="810.3" y2="70.1"/>
<line x1="804.9" y1="56.9" x2="810.3" y2="56.9"/>
<line x1="807.0" y1="43.6" x2="810.3" y2="43.6"/>
<line x1="804.9" y1="30.4" x2="810.3" y2="30.4"/>
</g>
<text x="147.0" y="16.6" font-size="16.3" textLength="23.0" lengthAdjust="spacingAndGlyphs" font-weight="bold" stroke="#fff" stroke-width="0.35">De</text>
<text x="177.0" y="16.6" font-size="16.3" textLength="28.3" lengthAdjust="spacingAndGlyphs" font-weight="bold" stroke="#fff" stroke-width="0.35">Bilt</text>
<text x="217.7" y="16.6" font-size="16.3" textLength="37.0" lengthAdjust="spacingAndGlyphs" font-weight="bold" stroke="#fff" stroke-width="0.35">(NL)</text>
<text x="267.8" y="16.6" font-size="16.3" textLength="25.7" lengthAdjust="spacingAndGlyphs" font-weight="bold" stroke="#fff" stroke-width="0.35">2m</text>
<text x="300.6" y="16.6" font-size="16.3" textLength="84.0" lengthAdjust="spacingAndGlyphs" font-weight="bold" stroke="#fff" stroke-width="0.35">Dewpoint</text>
<text x="391.7" y="16.6" font-size="16.3" textLength="9.5" lengthAdjust="spacingAndGlyphs" font-weight="bold" stroke="#fff" stroke-width="0.35">&amp;</text>
<text x="410.0" y="16.6" font-size="16.3" textLength="116.0" lengthAdjust="spacingAndGlyphs" font-weight="bold" stroke="#fff" stroke-width="0.35">Precipitation</text>
<text x="534.6" y="16.6" font-size="16.3" textLength="2.6" lengthAdjust="spacingAndGlyphs" font-weight="bold" stroke="#fff" stroke-width="0.35">|</text>
<text x="544.7" y="16.6" font-size="16.3" textLength="38.8" lengthAdjust="spacingAndGlyphs" font-weight="bold" stroke="#fff" stroke-width="0.35">Sun,</text>
<text x="591.3" y="16.6" font-size="16.3" textLength="93.6" lengthAdjust="spacingAndGlyphs" font-weight="bold" stroke="#fff" stroke-width="0.35">22Jun2025</text>
<text x="693.0" y="16.6" font-size="16.3" textLength="31.7" lengthAdjust="spacingAndGlyphs" font-weight="bold" stroke="#fff" stroke-width="0.35">06Z</text>
<text x="141.7" y="33.4" font-size="10.9" textLength="11.6" lengthAdjust="spacingAndGlyphs">35</text>
<text x="141.7" y="92.2" font-size="10.9" textLength="11.6" lengthAdjust="spacingAndGlyphs">30</text>
<text x="141.7" y="151.1" font-size="10.9" textLength="11.6" lengthAdjust="spacingAndGlyphs">25</text>
<text x="141.7" y="209.9" font-size="10.9" textLength="11.6" lengthAdjust="spacingAndGlyphs">20</text>
<text x="141.7" y="268.8" font-size="10.9" textLength="11.6" lengthAdjust="spacingAndGlyphs">15</text>
<text x="141.7" y="327.6" font-size="10.9" textLength="11.6" lengthAdjust="spacingAndGlyphs">10</text>
<text x="147.4" y="386.5" font-size="10.9" textLength="5.9" lengthAdjust="spacingAndGlyphs">5</text>
<text x="147.4" y="445.3" font-size="10.9" textLength="5.9" lengthAdjust="spacingAndGlyphs">0</text>
<text x="142.9" y="504.2" font-size="10.9" textLength="10.4" lengthAdjust="spacingAndGlyphs">-5</text>
<text x="136.7" y="563.0" font-size="10.9" textLength="16.6" lengthAdjust="spacingAndGlyphs">-10</text>
<text x="817.8" y="32.6" font-size="10.9" textLength="11.6" lengthAdjust="spacingAndGlyphs">40</text>
<text x="817.8" y="165.0" font-size="10.9" textLength="11.6" lengthAdjust="spacingAndGlyphs">30</text>
<text x="817.8" y="297.4" font-size="10.9" textLength="11.6" lengthAdjust="spacingAndGlyphs">20</text>
<text x="817.8" y="429.8" font-size="10.9" textLength="11.6" lengthAdjust="spacingAndGlyphs">10</text>
<text x="817.8" y="562.2" font-size="10.9" textLength="5.9" lengthAdjust="spacingAndGlyphs">0</text>
<text x="136.7" y="577.2" font-size="10.9" textLength="51.7" lengthAdjust="spacingAndGlyphs">22Jun 00z</text>
<text x="216.3" y="577.2" font-size="10.9" textLength="51.7" lengthAdjust="spacingAndGlyphs">24Jun 00z</text>
<text x="295.9" y="577.2" font-size="10.9" textLength="51.7" lengthAdjust="spacingAndGlyphs">26Jun 00z</text>
<text x="375.5" y="577.2" font-size="10.9" textLength="51.7" lengthAdjust="spacingAndGlyphs">28Jun 00z</text>
<text x="455.1" y="577.2" font-size="10.9" textLength="51.7" lengthAdjust="spacingAndGlyphs">30Jun 00z</text>
<text x="536.7" y="577.2" font-size="10.9" textLength="47.8" lengthAdjust="spacingAndGlyphs">02Jul 00z</text>
<text x="616.3" y="577.2" font-size="10.9" textLength="47.8" lengthAdjust="spacingAndGlyphs">04Jul 00z</text>
<text x="695.9" y="577.2" font-size="10.9" textLength="47.8" lengthAdjust="spacingAndGlyphs">06Jul 00z</text>
<text x="775.6" y="577.2" font-size="10.9" textLength="47.8" lengthAdjust="spacingAndGlyphs">08Jul 00z</text>
<text x="458.0" y="593.0" font-size="10.9" textLength="57.0" lengthAdjust="spacingAndGlyphs">Date (UTC)</text>
<g transform="translate(134.9,295.6) rotate(-90)">
<text x="-47.4" y="0.0" font-size="10.9" textLength="94.8" lengthAdjust="spacingAndGlyphs">2m Dewpoint (°C)</text>
</g>
<g transform="translate(843.2,295.6) rotate(-90)">
<text x="-49.3" y="0.0" font-size="10.9" textLength="98.6" lengthAdjust="spacingAndGlyphs">Precipitation (mm)</text>
</g>
<text x="120.6" y="604.2" font-size="16.2" textLength="185.7" lengthAdjust="spacingAndGlyphs">GFS Ensemble, 52N, 5E</text>
<text x="650.7" y="604.4" font-size="16.2" textLength="142.6" lengthAdjust="spacingAndGlyphs">Wetterzentrale.de</text>
<g stroke-width="2.0" fill="none">
<line x1="-1.0" y1="40.4" x2="9.0" y2="40.4" stroke="#0036dc"/>
<line x1="54.0" y1="40.4" x2="65.0" y2="40.4" stroke="#0054d0"/>
<line x1="-1.0" y1="55.5" x2="9.0" y2="55.5" stroke="#0072d2"/>
<line x1="54.0" y1="55.5" x2="65.0" y2="55.5" stroke="#0096c8"/>
<line x1="-1.0" y1="70.5" x2="9.0" y2="70.5" stroke="#00aabe"/>
<line x1="54.0" y1="70.5" x2="65.0" y2="70.5" stroke="#00aa8c"/>
<line x1="-1.0" y1="85.6" x2="9.0" y2="85.6" stroke="#00a868"/>
<line x1="54.0" y1="85.6" x2="65.0" y2="85.6" stroke="#00b050"/>
<line x1="-1.0" y1="100.6" x2="9.0" y2="100.6" stroke="#00bc28"/>
<line x1="54.0" y1="100.6" x2="65.0" y2="100.6" stroke="#00c800"/>
<line x1="-1.0" y1="115.7" x2="9.0" y2="115.7" stroke="#d2c800"/>
<line x1="54.0" y1="115.7" x2="65.0" y2="115.7" stroke="#d2b400"/>
<line x1="-1.0" y1="130.7" x2="9.0" y2="130.7" stroke="#d29e00"/>
<line x1="54.0" y1="130.7" x2="65.0" y2="130.7" stroke="#d28a00"/>
<line x1="-1.0" y1="145.8" x2="9.0" y2="145.8" stroke="#d27800"/>
<line x1="54.0" y1="145.8" x2="65.0" y2="145.8" stroke="#c86a00"/>
<line x1="-1.0" y1="160.8" x2="9.0" y2="160.8" stroke="#c85a00"/>
<line x1="54.0" y1="160.8" x2="65.0" y2="160.8" stroke="#c84a1e"/>
<line x1="-1.0" y1="175.9" x2="9.0" y2="175.9" stroke="#b83220"/>
<line x1="54.0" y1="175.9" x2="65.0" y2="175.9" stroke="#a01a1a"/>
<line x1="-1.0" y1="190.9" x2="9.0" y2="190.9" stroke="#0054d0"/>
<line x1="54.0" y1="190.9" x2="65.0" y2="190.9" stroke="#0072d2"/>
<line x1="-1.0" y1="206.0" x2="9.0" y2="206.0" stroke="#0096c8"/>
<line x1="54.0" y1="206.0" x2="65.0" y2="206.0" stroke="#00aabe"/>
<line x1="-1.0" y1="221.0" x2="9.0" y2="221.0" stroke="#00aa8c"/>
<line x1="54.0" y1="221.0" x2="65.0" y2="221.0" stroke="#00a868"/>
<line x1="-1.0" y1="236.1" x2="9.0" y2="236.1" stroke="#00b050"/>
<line x1="54.0" y1="236.1" x2="65.0" y2="236.1" stroke="#00bc28"/>
<line x1="-1.0" y1="251.1" x2="9.0" y2="251.1" stroke="#00c800"/>
<line x1="54.0" y1="251.1" x2="65.0" y2="251.1" stroke="#d2c800"/>
<line x1="-1" y1="267.1" x2="8.7" y2="267.1" stroke="#0000ff" stroke-width="1.9"/>
<line x1="54.2" y1="267.1" x2="64.9" y2="267.1" stroke="#ffffff" stroke-width="2.3"/>
<line x1="-1" y1="282.8" x2="8.7" y2="282.8" stroke="#00e000" stroke-width="1.9"/>
</g>
<text x="9.7" y="42.6" font-size="10.8" textLength="12.4" lengthAdjust="spacingAndGlyphs">P1</text>
<text x="65.7" y="42.6" font-size="10.8" textLength="12.4" lengthAdjust="spacingAndGlyphs">P2</text>
<text x="9.7" y="57.7" font-size="10.8" textLength="12.4" lengthAdjust="spacingAndGlyphs">P3</text>
<text x="65.7" y="57.7" font-size="10.8" textLength="12.4" lengthAdjust="spacingAndGlyphs">P4</text>
<text x="9.7" y="72.7" font-size="10.8" textLength="12.4" lengthAdjust="spacingAndGlyphs">P5</text>
<text x="65.7" y="72.7" font-size="10.8" textLength="12.4" lengthAdjust="spacingAndGlyphs">P6</text>
<text x="9.7" y="87.8" font-size="10.8" textLength="12.4" lengthAdjust="spacingAndGlyphs">P7</text>
<text x="65.7" y="87.8" font-size="10.8" textLength="12.4" lengthAdjust="spacingAndGlyphs">P8</text>
<text x="9.7" y="102.8" font-size="10.8" textLength="12.4" lengthAdjust="spacingAndGlyphs">P9</text>
<text x="65.7" y="102.8" font-size="10.8" textLength="18.9" lengthAdjust="spacingAndGlyphs">P10</text>
<text x="9.7" y="117.9" font-size="10.8" textLength="18.9" lengthAdjust="spacingAndGlyphs">P11</text>
<text x="65.7" y="117.9" font-size="10.8" textLength="18.9" lengthAdjust="spacingAndGlyphs">P12</text>
<text x="9.7" y="132.9" font-size="10.8" textLength="18.9" lengthAdjust="spacingAndGlyphs">P13</text>
<text x="65.7" y="132.9" font-size="10.8" textLength="18.9" lengthAdjust="spacingAndGlyphs">P14</text>
<text x="9.7" y="147.9" font-size="10.8" textLength="18.9" lengthAdjust="spacingAndGlyphs">P15</text>
<text x="65.7" y="147.9" font-size="10.8" textLength="18.9" lengthAdjust="spacingAndGlyphs">P16</text>
<text x="9.7" y="163.0" font-size="10.8" textLength="18.9" lengthAdjust="spacingAndGlyphs">P17</text>
<text x="65.7" y="163.0" font-size="10.8" textLength="18.9" lengthAdjust="spacingAndGlyphs">P18</text>
<text x="9.7" y="178.1" font-size="10.8" textLength="18.9" lengthAdjust="spacingAndGlyphs">P19</text>
<text x="65.7" y="178.1" font-size="10.8" textLength="18.9" lengthAdjust="spacingAndGlyphs">P20</text>
<text x="9.7" y="193.1" font-size="10.8" textLength="18.9" lengthAdjust="spacingAndGlyphs">P21</text>
<text x="65.7" y="193.1" font-size="10.8" textLength="18.9" lengthAdjust="spacingAndGlyphs">P22</text>
<text x="9.7" y="208.2" font-size="10.8" textLength="18.9" lengthAdjust="spacingAndGlyphs">P23</text>
<text x="65.7" y="208.2" font-size="10.8" textLength="18.9" lengthAdjust="spacingAndGlyphs">P24</text>
<text x="9.7" y="223.2" font-size="10.8" textLength="18.9" lengthAdjust="spacingAndGlyphs">P25</text>
<text x="65.7" y="223.2" font-size="10.8" textLength="18.9" lengthAdjust="spacingAndGlyphs">P26</text>
<text x="9.7" y="238.2" font-size="10.8" textLength="18.9" lengthAdjust="spacingAndGlyphs">P27</text>
<text x="65.7" y="238.2" font-size="10.8" textLength="18.9" lengthAdjust="spacingAndGlyphs">P28</text>
<text x="9.7" y="253.3" font-size="10.8" textLength="18.9" lengthAdjust="spacingAndGlyphs">P29</text>
<text x="65.7" y="253.3" font-size="10.8" textLength="18.9" lengthAdjust="spacingAndGlyphs">P30</text>
<text x="9.7" y="269.3" font-size="10.8" textLength="36.5" lengthAdjust="spacingAndGlyphs">Control</text>
<text x="65.7" y="269.3" font-size="10.8" textLength="55.0" lengthAdjust="spacingAndGlyphs">Ens. mean</text>
<text x="9.7" y="285.0" font-size="10.8" textLength="24.6" lengthAdjust="spacingAndGlyphs">Oper</text>
</svg></body></html>
